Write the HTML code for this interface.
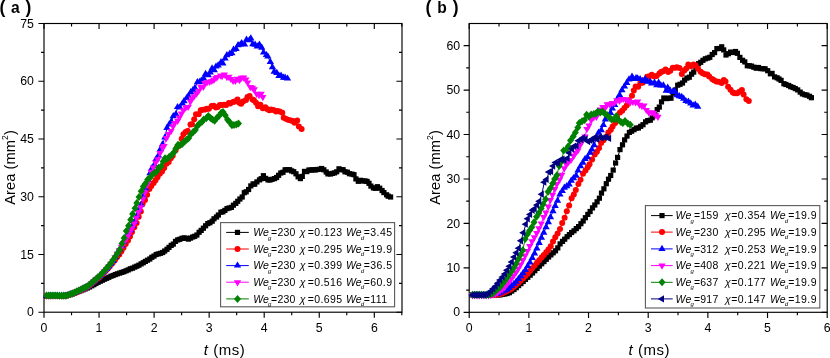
<!DOCTYPE html>
<html><head><meta charset="utf-8"><title>Area vs t</title>
<style>
html,body{margin:0;padding:0;background:#fff;}
body{width:830px;height:358px;overflow:hidden;font-family:"Liberation Sans",sans-serif;}
svg{display:block;will-change:transform;}
text{font-family:"Liberation Sans",sans-serif;fill:#000;}
.tk{font-size:12.3px;}
.lg{font-size:10.5px;letter-spacing:0.2px;}
.it{font-style:italic;}
.sb{font-size:6px;font-style:italic;fill:#000;}
.sp{font-size:8.5px;}
.al{font-size:15px;letter-spacing:0.55px;}
.yl{font-size:14.6px;letter-spacing:0.1px;}
.pl{font-size:15.6px;font-weight:bold;letter-spacing:0.75px;}
.pp{font-size:17.5px;}
</style></head>
<body>
<svg width="830" height="358" viewBox="0 0 830 358">
<rect width="830" height="358" fill="#fff"/>
<rect x="44" y="23.5" width="358" height="288.7" fill="none" stroke="#000" stroke-width="1.15"/>
<path d="M44.00 312.2v5.6M44.00 23.5v5.6M99.05 312.2v5.6M99.05 23.5v5.6M154.10 312.2v5.6M154.10 23.5v5.6M209.15 312.2v5.6M209.15 23.5v5.6M264.20 312.2v5.6M264.20 23.5v5.6M319.25 312.2v5.6M319.25 23.5v5.6M374.30 312.2v5.6M374.30 23.5v5.6M71.53 312.2v3.0M71.53 23.5v3.0M126.57 312.2v3.0M126.57 23.5v3.0M181.62 312.2v3.0M181.62 23.5v3.0M236.67 312.2v3.0M236.67 23.5v3.0M291.73 312.2v3.0M291.73 23.5v3.0M346.77 312.2v3.0M346.77 23.5v3.0M401.82 312.2v3.0M401.82 23.5v3.0M44 312.20h-5.6M402 312.20h-5.6M44 254.46h-5.6M402 254.46h-5.6M44 196.73h-5.6M402 196.73h-5.6M44 138.99h-5.6M402 138.99h-5.6M44 81.26h-5.6M402 81.26h-5.6M44 23.52h-5.6M402 23.52h-5.6M44 283.33h-3.0M402 283.33h-3.0M44 225.60h-3.0M402 225.60h-3.0M44 167.86h-3.0M402 167.86h-3.0M44 110.13h-3.0M402 110.13h-3.0M44 52.39h-3.0M402 52.39h-3.0" stroke="#000" stroke-width="1.15" fill="none"/>
<text x="44.0" y="331.5" text-anchor="middle" class="tk">0</text>
<text x="99.0" y="331.5" text-anchor="middle" class="tk">1</text>
<text x="154.1" y="331.5" text-anchor="middle" class="tk">2</text>
<text x="209.1" y="331.5" text-anchor="middle" class="tk">3</text>
<text x="264.2" y="331.5" text-anchor="middle" class="tk">4</text>
<text x="319.2" y="331.5" text-anchor="middle" class="tk">5</text>
<text x="374.3" y="331.5" text-anchor="middle" class="tk">6</text>
<text x="33.9" y="316.3" text-anchor="end" class="tk">0</text>
<text x="33.9" y="258.6" text-anchor="end" class="tk">15</text>
<text x="33.9" y="200.8" text-anchor="end" class="tk">30</text>
<text x="33.9" y="143.1" text-anchor="end" class="tk">45</text>
<text x="33.9" y="85.4" text-anchor="end" class="tk">60</text>
<text x="33.9" y="27.6" text-anchor="end" class="tk">75</text>
<path d="M46.5 296.0L48.6 296.0L50.8 295.9L53.0 295.9L55.1 295.8L57.2 295.8L59.4 295.7L61.5 295.7L63.7 295.6L65.8 295.3L68.0 294.9L70.2 294.6L72.3 293.8L74.5 293.1L76.6 292.4L78.8 291.5L80.9 290.7L83.0 289.8L85.2 288.9L87.3 288.0L89.5 287.0L91.7 285.8L93.8 284.7L95.9 283.5L98.1 282.3L100.2 281.2L102.4 280.2L104.5 279.2L106.7 278.3L108.8 277.3L111.0 276.2L113.1 275.5L115.3 274.6L117.4 273.8L119.6 273.1L121.8 272.4L123.9 271.7L126.1 270.8L128.2 269.9L130.3 268.8L132.5 268.2L134.7 267.1L136.8 266.2L138.9 265.2L141.1 263.9L143.3 262.7L145.4 261.4L147.5 260.2L149.8 259.0L151.8 257.3L154.0 256.1L156.2 254.5L158.3 253.9L160.5 253.3L162.7 252.5L164.7 251.0L167.0 249.3L169.0 247.4L171.2 245.4L173.3 244.1L175.5 241.4L177.7 239.9L179.8 239.3L182.0 238.3L184.2 237.9L186.2 238.3L188.4 239.1L190.5 238.1L192.7 237.0L194.7 236.3L196.9 235.0L199.1 232.3L201.2 230.4L203.4 228.2L205.6 225.8L207.8 223.6L209.9 222.7L212.2 221.2L214.0 218.8L216.5 217.0L218.4 215.0L220.9 212.2L222.9 211.8L224.9 210.4L227.0 208.6L229.1 208.0L231.4 207.4L233.4 205.2L235.8 203.4L237.7 201.3L239.9 199.0L242.2 197.0L244.3 192.7L246.2 191.8L248.6 189.5L250.8 185.9L253.1 183.9L254.7 184.2L256.9 181.9L259.5 179.9L261.2 178.7L263.4 175.7L265.7 178.4L268.0 179.9L270.0 180.0L272.1 179.3L274.5 178.6L276.6 177.5L278.6 175.3L280.8 173.0L283.0 172.3L285.1 169.8L287.1 169.8L289.6 169.7L291.6 170.9L293.7 171.7L296.0 173.8L298.1 176.8L300.4 178.6L302.3 176.4L304.5 171.4L306.8 171.6L308.9 170.0L311.1 170.1L313.1 169.7L315.2 170.0L317.4 169.5L319.6 169.3L321.6 168.5L323.8 169.8L326.2 172.0L327.9 173.9L330.5 174.0L332.4 173.4L334.5 172.9L336.7 171.8L339.0 168.8L341.1 169.7L343.1 169.7L345.0 171.8L347.4 172.2L349.4 173.7L351.9 174.1L354.0 174.7L355.9 178.9L358.3 181.3L360.6 180.3L362.5 181.0L365.0 180.9L367.1 181.4L369.0 183.3L370.9 186.1L373.4 187.9L375.4 188.3L377.4 186.7L379.7 188.2L382.1 190.5L383.9 192.6L386.6 194.8L388.2 196.2L390.6 197.0" fill="none" stroke="#000000" stroke-width="1"/>
<rect x="43.9" y="293.4" width="5.2" height="5.2" fill="#000000"/><rect x="46.0" y="293.4" width="5.2" height="5.2" fill="#000000"/><rect x="48.2" y="293.3" width="5.2" height="5.2" fill="#000000"/><rect x="50.4" y="293.3" width="5.2" height="5.2" fill="#000000"/><rect x="52.5" y="293.2" width="5.2" height="5.2" fill="#000000"/><rect x="54.6" y="293.2" width="5.2" height="5.2" fill="#000000"/><rect x="56.8" y="293.1" width="5.2" height="5.2" fill="#000000"/><rect x="58.9" y="293.1" width="5.2" height="5.2" fill="#000000"/><rect x="61.1" y="293.0" width="5.2" height="5.2" fill="#000000"/><rect x="63.2" y="292.7" width="5.2" height="5.2" fill="#000000"/><rect x="65.4" y="292.3" width="5.2" height="5.2" fill="#000000"/><rect x="67.6" y="292.0" width="5.2" height="5.2" fill="#000000"/><rect x="69.7" y="291.2" width="5.2" height="5.2" fill="#000000"/><rect x="71.9" y="290.5" width="5.2" height="5.2" fill="#000000"/><rect x="74.0" y="289.8" width="5.2" height="5.2" fill="#000000"/><rect x="76.2" y="288.9" width="5.2" height="5.2" fill="#000000"/><rect x="78.3" y="288.1" width="5.2" height="5.2" fill="#000000"/><rect x="80.5" y="287.2" width="5.2" height="5.2" fill="#000000"/><rect x="82.6" y="286.3" width="5.2" height="5.2" fill="#000000"/><rect x="84.8" y="285.4" width="5.2" height="5.2" fill="#000000"/><rect x="86.9" y="284.4" width="5.2" height="5.2" fill="#000000"/><rect x="89.1" y="283.2" width="5.2" height="5.2" fill="#000000"/><rect x="91.2" y="282.1" width="5.2" height="5.2" fill="#000000"/><rect x="93.3" y="280.9" width="5.2" height="5.2" fill="#000000"/><rect x="95.5" y="279.7" width="5.2" height="5.2" fill="#000000"/><rect x="97.7" y="278.6" width="5.2" height="5.2" fill="#000000"/><rect x="99.8" y="277.6" width="5.2" height="5.2" fill="#000000"/><rect x="101.9" y="276.6" width="5.2" height="5.2" fill="#000000"/><rect x="104.1" y="275.7" width="5.2" height="5.2" fill="#000000"/><rect x="106.2" y="274.7" width="5.2" height="5.2" fill="#000000"/><rect x="108.4" y="273.6" width="5.2" height="5.2" fill="#000000"/><rect x="110.5" y="272.9" width="5.2" height="5.2" fill="#000000"/><rect x="112.7" y="272.0" width="5.2" height="5.2" fill="#000000"/><rect x="114.8" y="271.2" width="5.2" height="5.2" fill="#000000"/><rect x="117.0" y="270.5" width="5.2" height="5.2" fill="#000000"/><rect x="119.2" y="269.8" width="5.2" height="5.2" fill="#000000"/><rect x="121.3" y="269.1" width="5.2" height="5.2" fill="#000000"/><rect x="123.5" y="268.2" width="5.2" height="5.2" fill="#000000"/><rect x="125.6" y="267.3" width="5.2" height="5.2" fill="#000000"/><rect x="127.7" y="266.2" width="5.2" height="5.2" fill="#000000"/><rect x="129.9" y="265.6" width="5.2" height="5.2" fill="#000000"/><rect x="132.1" y="264.5" width="5.2" height="5.2" fill="#000000"/><rect x="134.2" y="263.6" width="5.2" height="5.2" fill="#000000"/><rect x="136.3" y="262.6" width="5.2" height="5.2" fill="#000000"/><rect x="138.5" y="261.3" width="5.2" height="5.2" fill="#000000"/><rect x="140.7" y="260.1" width="5.2" height="5.2" fill="#000000"/><rect x="142.8" y="258.8" width="5.2" height="5.2" fill="#000000"/><rect x="144.9" y="257.6" width="5.2" height="5.2" fill="#000000"/><rect x="147.2" y="256.4" width="5.2" height="5.2" fill="#000000"/><rect x="149.2" y="254.7" width="5.2" height="5.2" fill="#000000"/><rect x="151.4" y="253.5" width="5.2" height="5.2" fill="#000000"/><rect x="153.6" y="251.9" width="5.2" height="5.2" fill="#000000"/><rect x="155.7" y="251.3" width="5.2" height="5.2" fill="#000000"/><rect x="157.9" y="250.7" width="5.2" height="5.2" fill="#000000"/><rect x="160.1" y="249.9" width="5.2" height="5.2" fill="#000000"/><rect x="162.1" y="248.4" width="5.2" height="5.2" fill="#000000"/><rect x="164.4" y="246.7" width="5.2" height="5.2" fill="#000000"/><rect x="166.4" y="244.8" width="5.2" height="5.2" fill="#000000"/><rect x="168.6" y="242.8" width="5.2" height="5.2" fill="#000000"/><rect x="170.7" y="241.5" width="5.2" height="5.2" fill="#000000"/><rect x="172.9" y="238.8" width="5.2" height="5.2" fill="#000000"/><rect x="175.1" y="237.3" width="5.2" height="5.2" fill="#000000"/><rect x="177.2" y="236.7" width="5.2" height="5.2" fill="#000000"/><rect x="179.4" y="235.7" width="5.2" height="5.2" fill="#000000"/><rect x="181.6" y="235.3" width="5.2" height="5.2" fill="#000000"/><rect x="183.6" y="235.7" width="5.2" height="5.2" fill="#000000"/><rect x="185.8" y="236.5" width="5.2" height="5.2" fill="#000000"/><rect x="187.9" y="235.5" width="5.2" height="5.2" fill="#000000"/><rect x="190.1" y="234.4" width="5.2" height="5.2" fill="#000000"/><rect x="192.1" y="233.7" width="5.2" height="5.2" fill="#000000"/><rect x="194.3" y="232.4" width="5.2" height="5.2" fill="#000000"/><rect x="196.5" y="229.7" width="5.2" height="5.2" fill="#000000"/><rect x="198.6" y="227.8" width="5.2" height="5.2" fill="#000000"/><rect x="200.8" y="225.6" width="5.2" height="5.2" fill="#000000"/><rect x="203.0" y="223.2" width="5.2" height="5.2" fill="#000000"/><rect x="205.2" y="221.0" width="5.2" height="5.2" fill="#000000"/><rect x="207.3" y="220.1" width="5.2" height="5.2" fill="#000000"/><rect x="209.6" y="218.6" width="5.2" height="5.2" fill="#000000"/><rect x="211.4" y="216.2" width="5.2" height="5.2" fill="#000000"/><rect x="213.9" y="214.4" width="5.2" height="5.2" fill="#000000"/><rect x="215.8" y="212.4" width="5.2" height="5.2" fill="#000000"/><rect x="218.3" y="209.6" width="5.2" height="5.2" fill="#000000"/><rect x="220.3" y="209.2" width="5.2" height="5.2" fill="#000000"/><rect x="222.3" y="207.8" width="5.2" height="5.2" fill="#000000"/><rect x="224.4" y="206.0" width="5.2" height="5.2" fill="#000000"/><rect x="226.5" y="205.4" width="5.2" height="5.2" fill="#000000"/><rect x="228.8" y="204.8" width="5.2" height="5.2" fill="#000000"/><rect x="230.8" y="202.6" width="5.2" height="5.2" fill="#000000"/><rect x="233.2" y="200.8" width="5.2" height="5.2" fill="#000000"/><rect x="235.1" y="198.7" width="5.2" height="5.2" fill="#000000"/><rect x="237.3" y="196.4" width="5.2" height="5.2" fill="#000000"/><rect x="239.6" y="194.4" width="5.2" height="5.2" fill="#000000"/><rect x="241.7" y="190.1" width="5.2" height="5.2" fill="#000000"/><rect x="243.6" y="189.2" width="5.2" height="5.2" fill="#000000"/><rect x="246.0" y="186.9" width="5.2" height="5.2" fill="#000000"/><rect x="248.2" y="183.3" width="5.2" height="5.2" fill="#000000"/><rect x="250.5" y="181.3" width="5.2" height="5.2" fill="#000000"/><rect x="252.1" y="181.6" width="5.2" height="5.2" fill="#000000"/><rect x="254.3" y="179.3" width="5.2" height="5.2" fill="#000000"/><rect x="256.9" y="177.3" width="5.2" height="5.2" fill="#000000"/><rect x="258.6" y="176.1" width="5.2" height="5.2" fill="#000000"/><rect x="260.8" y="173.1" width="5.2" height="5.2" fill="#000000"/><rect x="263.1" y="175.8" width="5.2" height="5.2" fill="#000000"/><rect x="265.4" y="177.3" width="5.2" height="5.2" fill="#000000"/><rect x="267.4" y="177.4" width="5.2" height="5.2" fill="#000000"/><rect x="269.5" y="176.7" width="5.2" height="5.2" fill="#000000"/><rect x="271.9" y="176.0" width="5.2" height="5.2" fill="#000000"/><rect x="274.0" y="174.9" width="5.2" height="5.2" fill="#000000"/><rect x="276.0" y="172.7" width="5.2" height="5.2" fill="#000000"/><rect x="278.2" y="170.4" width="5.2" height="5.2" fill="#000000"/><rect x="280.4" y="169.7" width="5.2" height="5.2" fill="#000000"/><rect x="282.5" y="167.2" width="5.2" height="5.2" fill="#000000"/><rect x="284.5" y="167.2" width="5.2" height="5.2" fill="#000000"/><rect x="287.0" y="167.1" width="5.2" height="5.2" fill="#000000"/><rect x="289.0" y="168.3" width="5.2" height="5.2" fill="#000000"/><rect x="291.1" y="169.1" width="5.2" height="5.2" fill="#000000"/><rect x="293.4" y="171.2" width="5.2" height="5.2" fill="#000000"/><rect x="295.5" y="174.2" width="5.2" height="5.2" fill="#000000"/><rect x="297.8" y="176.0" width="5.2" height="5.2" fill="#000000"/><rect x="299.7" y="173.8" width="5.2" height="5.2" fill="#000000"/><rect x="301.9" y="168.8" width="5.2" height="5.2" fill="#000000"/><rect x="304.2" y="169.0" width="5.2" height="5.2" fill="#000000"/><rect x="306.3" y="167.4" width="5.2" height="5.2" fill="#000000"/><rect x="308.5" y="167.5" width="5.2" height="5.2" fill="#000000"/><rect x="310.5" y="167.1" width="5.2" height="5.2" fill="#000000"/><rect x="312.6" y="167.4" width="5.2" height="5.2" fill="#000000"/><rect x="314.8" y="166.9" width="5.2" height="5.2" fill="#000000"/><rect x="317.0" y="166.7" width="5.2" height="5.2" fill="#000000"/><rect x="319.0" y="165.9" width="5.2" height="5.2" fill="#000000"/><rect x="321.2" y="167.2" width="5.2" height="5.2" fill="#000000"/><rect x="323.6" y="169.4" width="5.2" height="5.2" fill="#000000"/><rect x="325.3" y="171.3" width="5.2" height="5.2" fill="#000000"/><rect x="327.9" y="171.4" width="5.2" height="5.2" fill="#000000"/><rect x="329.8" y="170.8" width="5.2" height="5.2" fill="#000000"/><rect x="331.9" y="170.3" width="5.2" height="5.2" fill="#000000"/><rect x="334.1" y="169.2" width="5.2" height="5.2" fill="#000000"/><rect x="336.4" y="166.2" width="5.2" height="5.2" fill="#000000"/><rect x="338.5" y="167.1" width="5.2" height="5.2" fill="#000000"/><rect x="340.5" y="167.1" width="5.2" height="5.2" fill="#000000"/><rect x="342.4" y="169.2" width="5.2" height="5.2" fill="#000000"/><rect x="344.8" y="169.6" width="5.2" height="5.2" fill="#000000"/><rect x="346.8" y="171.1" width="5.2" height="5.2" fill="#000000"/><rect x="349.3" y="171.5" width="5.2" height="5.2" fill="#000000"/><rect x="351.4" y="172.1" width="5.2" height="5.2" fill="#000000"/><rect x="353.3" y="176.3" width="5.2" height="5.2" fill="#000000"/><rect x="355.7" y="178.7" width="5.2" height="5.2" fill="#000000"/><rect x="358.0" y="177.7" width="5.2" height="5.2" fill="#000000"/><rect x="359.9" y="178.4" width="5.2" height="5.2" fill="#000000"/><rect x="362.4" y="178.3" width="5.2" height="5.2" fill="#000000"/><rect x="364.5" y="178.8" width="5.2" height="5.2" fill="#000000"/><rect x="366.4" y="180.7" width="5.2" height="5.2" fill="#000000"/><rect x="368.3" y="183.5" width="5.2" height="5.2" fill="#000000"/><rect x="370.8" y="185.3" width="5.2" height="5.2" fill="#000000"/><rect x="372.8" y="185.7" width="5.2" height="5.2" fill="#000000"/><rect x="374.8" y="184.1" width="5.2" height="5.2" fill="#000000"/><rect x="377.1" y="185.6" width="5.2" height="5.2" fill="#000000"/><rect x="379.5" y="187.9" width="5.2" height="5.2" fill="#000000"/><rect x="381.3" y="190.0" width="5.2" height="5.2" fill="#000000"/><rect x="384.0" y="192.2" width="5.2" height="5.2" fill="#000000"/><rect x="385.6" y="193.6" width="5.2" height="5.2" fill="#000000"/><rect x="388.0" y="194.4" width="5.2" height="5.2" fill="#000000"/>
<path d="M46.5 296.0L48.6 296.0L50.8 296.0L52.9 296.0L55.1 296.0L57.2 295.9L59.3 295.9L61.5 295.9L63.6 295.9L65.8 295.9L67.9 295.3L70.1 294.6L72.2 293.9L74.3 293.2L76.5 292.4L78.6 291.4L80.8 290.3L82.9 289.3L85.0 288.2L87.2 287.2L89.3 285.7L91.5 283.9L93.6 282.1L95.7 280.3L97.9 278.5L100.0 276.7L102.2 274.5L104.3 272.3L106.5 270.0L108.6 267.6L110.7 265.0L112.8 262.4L115.0 259.9L117.2 257.1L119.3 254.4L121.4 251.2L123.5 247.8L125.7 244.0L128.0 240.5L130.0 236.4L132.0 232.1L134.3 227.2L136.6 223.0L138.7 216.8L140.8 211.4L142.7 203.4L145.0 200.0L147.1 194.8L149.4 188.9L151.3 185.9L153.6 183.1L155.5 180.2L157.5 177.2L159.8 173.7L162.0 171.6L164.2 168.1L166.5 163.8L168.7 162.0L170.8 158.3L172.7 155.8L175.6 150.2L177.3 146.8L179.5 145.0L181.7 138.8L183.4 134.3L185.6 132.0L187.6 131.0L190.5 124.6L192.0 124.3L194.2 119.3L196.0 114.3L198.7 114.2L200.7 110.2L202.8 109.8L205.1 109.4L206.9 108.8L208.9 108.8L211.7 106.0L213.6 105.8L215.9 107.4L217.7 107.1L219.8 104.9L221.9 104.9L224.1 104.7L226.2 104.9L228.8 103.0L230.2 103.6L233.1 101.9L234.6 101.6L237.5 99.6L239.3 102.8L241.1 103.8L243.1 101.6L246.0 100.1L247.5 97.0L249.6 96.0L252.5 99.5L253.9 100.2L256.0 102.8L258.1 106.2L260.4 104.7L262.8 108.3L265.3 107.3L267.1 109.0L269.3 110.2L271.1 109.6L273.5 110.1L276.0 111.4L277.5 111.0L279.7 111.4L282.3 112.8L283.7 117.7L286.3 119.0L288.6 120.1L290.8 120.6L292.8 120.9L294.6 122.7L297.2 120.6L298.9 126.6L301.6 129.1" fill="none" stroke="#ff0000" stroke-width="1"/>
<circle cx="46.5" cy="296.0" r="3.0" fill="#ff0000"/><circle cx="48.6" cy="296.0" r="3.0" fill="#ff0000"/><circle cx="50.8" cy="296.0" r="3.0" fill="#ff0000"/><circle cx="52.9" cy="296.0" r="3.0" fill="#ff0000"/><circle cx="55.1" cy="296.0" r="3.0" fill="#ff0000"/><circle cx="57.2" cy="295.9" r="3.0" fill="#ff0000"/><circle cx="59.3" cy="295.9" r="3.0" fill="#ff0000"/><circle cx="61.5" cy="295.9" r="3.0" fill="#ff0000"/><circle cx="63.6" cy="295.9" r="3.0" fill="#ff0000"/><circle cx="65.8" cy="295.9" r="3.0" fill="#ff0000"/><circle cx="67.9" cy="295.3" r="3.0" fill="#ff0000"/><circle cx="70.1" cy="294.6" r="3.0" fill="#ff0000"/><circle cx="72.2" cy="293.9" r="3.0" fill="#ff0000"/><circle cx="74.3" cy="293.2" r="3.0" fill="#ff0000"/><circle cx="76.5" cy="292.4" r="3.0" fill="#ff0000"/><circle cx="78.6" cy="291.4" r="3.0" fill="#ff0000"/><circle cx="80.8" cy="290.3" r="3.0" fill="#ff0000"/><circle cx="82.9" cy="289.3" r="3.0" fill="#ff0000"/><circle cx="85.0" cy="288.2" r="3.0" fill="#ff0000"/><circle cx="87.2" cy="287.2" r="3.0" fill="#ff0000"/><circle cx="89.3" cy="285.7" r="3.0" fill="#ff0000"/><circle cx="91.5" cy="283.9" r="3.0" fill="#ff0000"/><circle cx="93.6" cy="282.1" r="3.0" fill="#ff0000"/><circle cx="95.7" cy="280.3" r="3.0" fill="#ff0000"/><circle cx="97.9" cy="278.5" r="3.0" fill="#ff0000"/><circle cx="100.0" cy="276.7" r="3.0" fill="#ff0000"/><circle cx="102.2" cy="274.5" r="3.0" fill="#ff0000"/><circle cx="104.3" cy="272.3" r="3.0" fill="#ff0000"/><circle cx="106.5" cy="270.0" r="3.0" fill="#ff0000"/><circle cx="108.6" cy="267.6" r="3.0" fill="#ff0000"/><circle cx="110.7" cy="265.0" r="3.0" fill="#ff0000"/><circle cx="112.8" cy="262.4" r="3.0" fill="#ff0000"/><circle cx="115.0" cy="259.9" r="3.0" fill="#ff0000"/><circle cx="117.2" cy="257.1" r="3.0" fill="#ff0000"/><circle cx="119.3" cy="254.4" r="3.0" fill="#ff0000"/><circle cx="121.4" cy="251.2" r="3.0" fill="#ff0000"/><circle cx="123.5" cy="247.8" r="3.0" fill="#ff0000"/><circle cx="125.7" cy="244.0" r="3.0" fill="#ff0000"/><circle cx="128.0" cy="240.5" r="3.0" fill="#ff0000"/><circle cx="130.0" cy="236.4" r="3.0" fill="#ff0000"/><circle cx="132.0" cy="232.1" r="3.0" fill="#ff0000"/><circle cx="134.3" cy="227.2" r="3.0" fill="#ff0000"/><circle cx="136.6" cy="223.0" r="3.0" fill="#ff0000"/><circle cx="138.7" cy="216.8" r="3.0" fill="#ff0000"/><circle cx="140.8" cy="211.4" r="3.0" fill="#ff0000"/><circle cx="142.7" cy="203.4" r="3.0" fill="#ff0000"/><circle cx="145.0" cy="200.0" r="3.0" fill="#ff0000"/><circle cx="147.1" cy="194.8" r="3.0" fill="#ff0000"/><circle cx="149.4" cy="188.9" r="3.0" fill="#ff0000"/><circle cx="151.3" cy="185.9" r="3.0" fill="#ff0000"/><circle cx="153.6" cy="183.1" r="3.0" fill="#ff0000"/><circle cx="155.5" cy="180.2" r="3.0" fill="#ff0000"/><circle cx="157.5" cy="177.2" r="3.0" fill="#ff0000"/><circle cx="159.8" cy="173.7" r="3.0" fill="#ff0000"/><circle cx="162.0" cy="171.6" r="3.0" fill="#ff0000"/><circle cx="164.2" cy="168.1" r="3.0" fill="#ff0000"/><circle cx="166.5" cy="163.8" r="3.0" fill="#ff0000"/><circle cx="168.7" cy="162.0" r="3.0" fill="#ff0000"/><circle cx="170.8" cy="158.3" r="3.0" fill="#ff0000"/><circle cx="172.7" cy="155.8" r="3.0" fill="#ff0000"/><circle cx="175.6" cy="150.2" r="3.0" fill="#ff0000"/><circle cx="177.3" cy="146.8" r="3.0" fill="#ff0000"/><circle cx="179.5" cy="145.0" r="3.0" fill="#ff0000"/><circle cx="181.7" cy="138.8" r="3.0" fill="#ff0000"/><circle cx="183.4" cy="134.3" r="3.0" fill="#ff0000"/><circle cx="185.6" cy="132.0" r="3.0" fill="#ff0000"/><circle cx="187.6" cy="131.0" r="3.0" fill="#ff0000"/><circle cx="190.5" cy="124.6" r="3.0" fill="#ff0000"/><circle cx="192.0" cy="124.3" r="3.0" fill="#ff0000"/><circle cx="194.2" cy="119.3" r="3.0" fill="#ff0000"/><circle cx="196.0" cy="114.3" r="3.0" fill="#ff0000"/><circle cx="198.7" cy="114.2" r="3.0" fill="#ff0000"/><circle cx="200.7" cy="110.2" r="3.0" fill="#ff0000"/><circle cx="202.8" cy="109.8" r="3.0" fill="#ff0000"/><circle cx="205.1" cy="109.4" r="3.0" fill="#ff0000"/><circle cx="206.9" cy="108.8" r="3.0" fill="#ff0000"/><circle cx="208.9" cy="108.8" r="3.0" fill="#ff0000"/><circle cx="211.7" cy="106.0" r="3.0" fill="#ff0000"/><circle cx="213.6" cy="105.8" r="3.0" fill="#ff0000"/><circle cx="215.9" cy="107.4" r="3.0" fill="#ff0000"/><circle cx="217.7" cy="107.1" r="3.0" fill="#ff0000"/><circle cx="219.8" cy="104.9" r="3.0" fill="#ff0000"/><circle cx="221.9" cy="104.9" r="3.0" fill="#ff0000"/><circle cx="224.1" cy="104.7" r="3.0" fill="#ff0000"/><circle cx="226.2" cy="104.9" r="3.0" fill="#ff0000"/><circle cx="228.8" cy="103.0" r="3.0" fill="#ff0000"/><circle cx="230.2" cy="103.6" r="3.0" fill="#ff0000"/><circle cx="233.1" cy="101.9" r="3.0" fill="#ff0000"/><circle cx="234.6" cy="101.6" r="3.0" fill="#ff0000"/><circle cx="237.5" cy="99.6" r="3.0" fill="#ff0000"/><circle cx="239.3" cy="102.8" r="3.0" fill="#ff0000"/><circle cx="241.1" cy="103.8" r="3.0" fill="#ff0000"/><circle cx="243.1" cy="101.6" r="3.0" fill="#ff0000"/><circle cx="246.0" cy="100.1" r="3.0" fill="#ff0000"/><circle cx="247.5" cy="97.0" r="3.0" fill="#ff0000"/><circle cx="249.6" cy="96.0" r="3.0" fill="#ff0000"/><circle cx="252.5" cy="99.5" r="3.0" fill="#ff0000"/><circle cx="253.9" cy="100.2" r="3.0" fill="#ff0000"/><circle cx="256.0" cy="102.8" r="3.0" fill="#ff0000"/><circle cx="258.1" cy="106.2" r="3.0" fill="#ff0000"/><circle cx="260.4" cy="104.7" r="3.0" fill="#ff0000"/><circle cx="262.8" cy="108.3" r="3.0" fill="#ff0000"/><circle cx="265.3" cy="107.3" r="3.0" fill="#ff0000"/><circle cx="267.1" cy="109.0" r="3.0" fill="#ff0000"/><circle cx="269.3" cy="110.2" r="3.0" fill="#ff0000"/><circle cx="271.1" cy="109.6" r="3.0" fill="#ff0000"/><circle cx="273.5" cy="110.1" r="3.0" fill="#ff0000"/><circle cx="276.0" cy="111.4" r="3.0" fill="#ff0000"/><circle cx="277.5" cy="111.0" r="3.0" fill="#ff0000"/><circle cx="279.7" cy="111.4" r="3.0" fill="#ff0000"/><circle cx="282.3" cy="112.8" r="3.0" fill="#ff0000"/><circle cx="283.7" cy="117.7" r="3.0" fill="#ff0000"/><circle cx="286.3" cy="119.0" r="3.0" fill="#ff0000"/><circle cx="288.6" cy="120.1" r="3.0" fill="#ff0000"/><circle cx="290.8" cy="120.6" r="3.0" fill="#ff0000"/><circle cx="292.8" cy="120.9" r="3.0" fill="#ff0000"/><circle cx="294.6" cy="122.7" r="3.0" fill="#ff0000"/><circle cx="297.2" cy="120.6" r="3.0" fill="#ff0000"/><circle cx="298.9" cy="126.6" r="3.0" fill="#ff0000"/><circle cx="301.6" cy="129.1" r="3.0" fill="#ff0000"/>
<path d="M46.5 296.0L48.7 296.0L50.8 296.0L53.0 295.9L55.1 295.9L57.3 295.9L59.4 295.9L61.6 295.8L63.7 295.8L65.9 295.8L68.0 295.1L70.2 294.3L72.3 293.6L74.5 292.9L76.6 292.0L78.8 291.0L80.9 289.9L83.1 288.8L85.2 287.7L87.4 286.7L89.5 285.1L91.7 283.3L93.8 281.4L96.0 279.6L98.1 277.8L100.3 275.9L102.4 273.6L104.6 271.3L106.8 269.0L108.9 266.5L111.1 263.7L113.2 260.9L115.3 257.2L117.5 253.5L119.7 249.6L121.9 245.7L124.0 241.5L126.1 237.4L128.3 234.0L130.4 230.2L132.5 226.0L134.7 221.8L136.9 215.9L139.1 210.2L141.2 204.9L143.3 196.5L145.7 188.6L147.7 180.3L150.1 173.2L151.8 168.5L154.4 164.6L156.2 159.1L158.5 155.6L160.4 149.2L162.5 144.5L164.9 137.5L167.0 128.0L169.2 124.4L171.3 121.5L173.3 116.2L175.9 114.1L177.6 107.1L179.9 107.5L182.4 103.6L184.0 101.3L186.6 98.1L188.5 95.9L190.7 92.2L192.9 90.1L194.9 88.0L197.4 82.3L199.6 81.9L201.3 80.7L203.6 78.4L205.6 73.9L208.2 75.2L210.2 72.4L212.1 68.5L214.3 70.2L216.0 66.6L218.1 65.5L221.0 62.3L222.8 63.4L225.1 58.6L226.9 55.2L229.6 54.0L231.8 53.2L233.5 49.8L236.1 48.9L238.1 45.3L240.4 44.6L241.7 43.2L244.6 44.6L246.5 39.8L249.4 40.3L250.8 38.4L252.8 44.2L255.1 44.8L257.2 46.4L259.4 44.6L261.8 47.8L263.6 52.6L266.4 55.1L267.9 56.6L270.3 61.9L272.4 67.2L274.2 71.7L276.8 73.0L279.0 76.0L281.1 75.7L283.5 77.8L285.1 77.7L287.5 78.6" fill="none" stroke="#0000ff" stroke-width="1"/>
<path d="M42.9 298.0L50.1 298.0L46.5 291.8Z" fill="#0000ff"/><path d="M45.0 298.0L52.3 298.0L48.7 291.8Z" fill="#0000ff"/><path d="M47.2 298.0L54.5 298.0L50.8 291.8Z" fill="#0000ff"/><path d="M49.3 297.9L56.6 297.9L53.0 291.7Z" fill="#0000ff"/><path d="M51.5 297.9L58.8 297.9L55.1 291.7Z" fill="#0000ff"/><path d="M53.6 297.9L60.9 297.9L57.3 291.7Z" fill="#0000ff"/><path d="M55.8 297.9L63.1 297.9L59.4 291.7Z" fill="#0000ff"/><path d="M57.9 297.8L65.2 297.8L61.6 291.6Z" fill="#0000ff"/><path d="M60.1 297.8L67.4 297.8L63.7 291.6Z" fill="#0000ff"/><path d="M62.2 297.8L69.5 297.8L65.9 291.6Z" fill="#0000ff"/><path d="M64.4 297.1L71.7 297.1L68.0 290.9Z" fill="#0000ff"/><path d="M66.5 296.3L73.8 296.3L70.2 290.1Z" fill="#0000ff"/><path d="M68.7 295.6L76.0 295.6L72.3 289.4Z" fill="#0000ff"/><path d="M70.8 294.9L78.1 294.9L74.5 288.7Z" fill="#0000ff"/><path d="M73.0 294.0L80.3 294.0L76.6 287.8Z" fill="#0000ff"/><path d="M75.1 293.0L82.4 293.0L78.8 286.8Z" fill="#0000ff"/><path d="M77.3 291.9L84.6 291.9L80.9 285.7Z" fill="#0000ff"/><path d="M79.4 290.8L86.7 290.8L83.1 284.6Z" fill="#0000ff"/><path d="M81.6 289.7L88.9 289.7L85.2 283.5Z" fill="#0000ff"/><path d="M83.7 288.7L91.0 288.7L87.4 282.5Z" fill="#0000ff"/><path d="M85.9 287.1L93.2 287.1L89.5 280.9Z" fill="#0000ff"/><path d="M88.0 285.3L95.3 285.3L91.7 279.1Z" fill="#0000ff"/><path d="M90.2 283.4L97.5 283.4L93.8 277.2Z" fill="#0000ff"/><path d="M92.3 281.6L99.6 281.6L96.0 275.4Z" fill="#0000ff"/><path d="M94.5 279.8L101.8 279.8L98.1 273.6Z" fill="#0000ff"/><path d="M96.6 277.9L103.9 277.9L100.3 271.7Z" fill="#0000ff"/><path d="M98.8 275.6L106.1 275.6L102.4 269.4Z" fill="#0000ff"/><path d="M100.9 273.3L108.2 273.3L104.6 267.1Z" fill="#0000ff"/><path d="M103.1 271.0L110.4 271.0L106.8 264.8Z" fill="#0000ff"/><path d="M105.3 268.5L112.6 268.5L108.9 262.3Z" fill="#0000ff"/><path d="M107.4 265.7L114.7 265.7L111.1 259.5Z" fill="#0000ff"/><path d="M109.6 262.9L116.9 262.9L113.2 256.7Z" fill="#0000ff"/><path d="M111.7 259.2L119.0 259.2L115.3 253.0Z" fill="#0000ff"/><path d="M113.8 255.5L121.1 255.5L117.5 249.3Z" fill="#0000ff"/><path d="M116.0 251.6L123.3 251.6L119.7 245.4Z" fill="#0000ff"/><path d="M118.2 247.7L125.5 247.7L121.9 241.5Z" fill="#0000ff"/><path d="M120.3 243.5L127.6 243.5L124.0 237.3Z" fill="#0000ff"/><path d="M122.4 239.4L129.7 239.4L126.1 233.2Z" fill="#0000ff"/><path d="M124.6 236.0L131.9 236.0L128.3 229.8Z" fill="#0000ff"/><path d="M126.8 232.2L134.1 232.2L130.4 226.0Z" fill="#0000ff"/><path d="M128.9 228.0L136.2 228.0L132.5 221.8Z" fill="#0000ff"/><path d="M131.0 223.8L138.3 223.8L134.7 217.6Z" fill="#0000ff"/><path d="M133.3 217.9L140.6 217.9L136.9 211.7Z" fill="#0000ff"/><path d="M135.4 212.2L142.7 212.2L139.1 206.0Z" fill="#0000ff"/><path d="M137.5 206.9L144.8 206.9L141.2 200.7Z" fill="#0000ff"/><path d="M139.6 198.5L146.9 198.5L143.3 192.3Z" fill="#0000ff"/><path d="M142.0 190.6L149.3 190.6L145.7 184.4Z" fill="#0000ff"/><path d="M144.1 182.3L151.4 182.3L147.7 176.1Z" fill="#0000ff"/><path d="M146.4 175.2L153.7 175.2L150.1 169.0Z" fill="#0000ff"/><path d="M148.1 170.5L155.4 170.5L151.8 164.3Z" fill="#0000ff"/><path d="M150.7 166.6L158.0 166.6L154.4 160.4Z" fill="#0000ff"/><path d="M152.5 161.1L159.8 161.1L156.2 154.9Z" fill="#0000ff"/><path d="M154.8 157.6L162.1 157.6L158.5 151.4Z" fill="#0000ff"/><path d="M156.8 151.2L164.1 151.2L160.4 145.0Z" fill="#0000ff"/><path d="M158.8 146.5L166.1 146.5L162.5 140.3Z" fill="#0000ff"/><path d="M161.3 139.5L168.6 139.5L164.9 133.3Z" fill="#0000ff"/><path d="M163.3 130.0L170.6 130.0L167.0 123.8Z" fill="#0000ff"/><path d="M165.5 126.4L172.8 126.4L169.2 120.2Z" fill="#0000ff"/><path d="M167.7 123.5L175.0 123.5L171.3 117.3Z" fill="#0000ff"/><path d="M169.6 118.2L176.9 118.2L173.3 112.0Z" fill="#0000ff"/><path d="M172.2 116.1L179.5 116.1L175.9 109.9Z" fill="#0000ff"/><path d="M173.9 109.1L181.2 109.1L177.6 102.9Z" fill="#0000ff"/><path d="M176.2 109.5L183.5 109.5L179.9 103.3Z" fill="#0000ff"/><path d="M178.7 105.6L186.0 105.6L182.4 99.4Z" fill="#0000ff"/><path d="M180.4 103.3L187.7 103.3L184.0 97.1Z" fill="#0000ff"/><path d="M182.9 100.1L190.2 100.1L186.6 93.9Z" fill="#0000ff"/><path d="M184.8 97.9L192.1 97.9L188.5 91.7Z" fill="#0000ff"/><path d="M187.1 94.2L194.4 94.2L190.7 88.0Z" fill="#0000ff"/><path d="M189.3 92.1L196.6 92.1L192.9 85.9Z" fill="#0000ff"/><path d="M191.3 90.0L198.6 90.0L194.9 83.8Z" fill="#0000ff"/><path d="M193.8 84.3L201.1 84.3L197.4 78.1Z" fill="#0000ff"/><path d="M195.9 83.9L203.2 83.9L199.6 77.7Z" fill="#0000ff"/><path d="M197.7 82.7L205.0 82.7L201.3 76.5Z" fill="#0000ff"/><path d="M200.0 80.4L207.3 80.4L203.6 74.2Z" fill="#0000ff"/><path d="M201.9 75.9L209.2 75.9L205.6 69.7Z" fill="#0000ff"/><path d="M204.6 77.2L211.9 77.2L208.2 71.0Z" fill="#0000ff"/><path d="M206.6 74.4L213.9 74.4L210.2 68.2Z" fill="#0000ff"/><path d="M208.4 70.5L215.7 70.5L212.1 64.3Z" fill="#0000ff"/><path d="M210.6 72.2L217.9 72.2L214.3 66.0Z" fill="#0000ff"/><path d="M212.3 68.6L219.6 68.6L216.0 62.4Z" fill="#0000ff"/><path d="M214.5 67.5L221.8 67.5L218.1 61.3Z" fill="#0000ff"/><path d="M217.4 64.3L224.7 64.3L221.0 58.1Z" fill="#0000ff"/><path d="M219.2 65.4L226.5 65.4L222.8 59.2Z" fill="#0000ff"/><path d="M221.4 60.6L228.7 60.6L225.1 54.4Z" fill="#0000ff"/><path d="M223.2 57.2L230.5 57.2L226.9 51.0Z" fill="#0000ff"/><path d="M226.0 56.0L233.3 56.0L229.6 49.8Z" fill="#0000ff"/><path d="M228.2 55.2L235.5 55.2L231.8 49.0Z" fill="#0000ff"/><path d="M229.9 51.8L237.2 51.8L233.5 45.6Z" fill="#0000ff"/><path d="M232.4 50.9L239.7 50.9L236.1 44.7Z" fill="#0000ff"/><path d="M234.4 47.3L241.7 47.3L238.1 41.1Z" fill="#0000ff"/><path d="M236.8 46.6L244.1 46.6L240.4 40.4Z" fill="#0000ff"/><path d="M238.0 45.2L245.3 45.2L241.7 39.0Z" fill="#0000ff"/><path d="M240.9 46.6L248.2 46.6L244.6 40.4Z" fill="#0000ff"/><path d="M242.9 41.8L250.2 41.8L246.5 35.6Z" fill="#0000ff"/><path d="M245.7 42.3L253.0 42.3L249.4 36.1Z" fill="#0000ff"/><path d="M247.2 40.4L254.5 40.4L250.8 34.2Z" fill="#0000ff"/><path d="M249.1 46.2L256.4 46.2L252.8 40.0Z" fill="#0000ff"/><path d="M251.5 46.8L258.8 46.8L255.1 40.6Z" fill="#0000ff"/><path d="M253.6 48.4L260.9 48.4L257.2 42.2Z" fill="#0000ff"/><path d="M255.7 46.6L263.0 46.6L259.4 40.4Z" fill="#0000ff"/><path d="M258.1 49.8L265.4 49.8L261.8 43.6Z" fill="#0000ff"/><path d="M259.9 54.6L267.2 54.6L263.6 48.4Z" fill="#0000ff"/><path d="M262.8 57.1L270.1 57.1L266.4 50.9Z" fill="#0000ff"/><path d="M264.2 58.6L271.5 58.6L267.9 52.4Z" fill="#0000ff"/><path d="M266.7 63.9L274.0 63.9L270.3 57.7Z" fill="#0000ff"/><path d="M268.8 69.2L276.1 69.2L272.4 63.0Z" fill="#0000ff"/><path d="M270.5 73.7L277.8 73.7L274.2 67.5Z" fill="#0000ff"/><path d="M273.2 75.0L280.5 75.0L276.8 68.8Z" fill="#0000ff"/><path d="M275.3 78.0L282.6 78.0L279.0 71.8Z" fill="#0000ff"/><path d="M277.4 77.7L284.7 77.7L281.1 71.5Z" fill="#0000ff"/><path d="M279.9 79.8L287.2 79.8L283.5 73.6Z" fill="#0000ff"/><path d="M281.5 79.7L288.8 79.7L285.1 73.5Z" fill="#0000ff"/><path d="M283.9 80.6L291.2 80.6L287.5 74.4Z" fill="#0000ff"/>
<path d="M46.5 295.5L48.6 295.5L50.8 295.5L52.9 295.4L55.1 295.4L57.2 295.4L59.4 295.4L61.5 295.3L63.6 295.3L65.8 295.3L67.9 294.7L70.1 294.0L72.2 293.3L74.4 292.6L76.5 291.8L78.6 290.7L80.8 289.7L82.9 288.7L85.1 287.6L87.2 286.6L89.4 285.1L91.5 283.3L93.6 281.5L95.8 279.6L97.9 277.8L100.1 276.0L102.2 273.8L104.3 271.5L106.5 269.2L108.6 266.6L110.8 263.8L112.9 260.9L115.1 257.3L117.2 253.7L119.3 250.2L121.5 246.7L123.7 242.9L125.8 239.2L127.9 235.7L130.0 231.3L132.0 228.1L134.3 223.4L136.4 217.7L138.5 212.1L140.7 207.3L143.0 198.8L145.0 192.4L147.3 184.3L149.5 178.9L151.3 171.7L153.3 167.6L155.7 162.4L157.7 159.2L160.0 153.1L162.5 147.5L164.0 146.1L166.4 138.0L168.4 134.0L171.0 131.1L173.1 126.2L174.6 123.0L177.6 120.7L179.3 117.4L181.4 113.5L183.3 110.2L185.8 107.5L188.1 106.9L190.4 101.6L192.0 98.4L194.1 96.3L196.6 93.6L198.7 90.7L200.7 86.8L203.4 86.8L204.8 82.9L207.0 82.2L209.7 81.7L211.8 80.9L213.9 79.7L215.9 77.9L217.4 76.9L220.5 75.4L222.0 76.0L224.4 74.6L226.9 77.0L228.8 76.7L230.9 78.9L233.1 80.8L235.4 80.8L237.4 78.7L239.5 80.0L241.4 77.7L243.6 77.5L245.9 79.5L247.6 82.4L250.3 87.1L252.5 87.8L254.2 89.2L256.6 93.8L259.0 95.1L261.1 93.7L262.8 97.1" fill="none" stroke="#ff00ff" stroke-width="1"/>
<path d="M42.9 293.5L50.1 293.5L46.5 299.7Z" fill="#ff00ff"/><path d="M45.0 293.5L52.3 293.5L48.6 299.7Z" fill="#ff00ff"/><path d="M47.1 293.5L54.4 293.5L50.8 299.7Z" fill="#ff00ff"/><path d="M49.3 293.4L56.6 293.4L52.9 299.6Z" fill="#ff00ff"/><path d="M51.4 293.4L58.7 293.4L55.1 299.6Z" fill="#ff00ff"/><path d="M53.6 293.4L60.9 293.4L57.2 299.6Z" fill="#ff00ff"/><path d="M55.7 293.4L63.0 293.4L59.4 299.6Z" fill="#ff00ff"/><path d="M57.8 293.3L65.1 293.3L61.5 299.5Z" fill="#ff00ff"/><path d="M60.0 293.3L67.3 293.3L63.6 299.5Z" fill="#ff00ff"/><path d="M62.1 293.3L69.4 293.3L65.8 299.5Z" fill="#ff00ff"/><path d="M64.3 292.7L71.6 292.7L67.9 298.9Z" fill="#ff00ff"/><path d="M66.4 292.0L73.7 292.0L70.1 298.2Z" fill="#ff00ff"/><path d="M68.6 291.3L75.9 291.3L72.2 297.5Z" fill="#ff00ff"/><path d="M70.7 290.6L78.0 290.6L74.4 296.8Z" fill="#ff00ff"/><path d="M72.8 289.8L80.1 289.8L76.5 296.0Z" fill="#ff00ff"/><path d="M75.0 288.7L82.3 288.7L78.6 294.9Z" fill="#ff00ff"/><path d="M77.1 287.7L84.4 287.7L80.8 293.9Z" fill="#ff00ff"/><path d="M79.3 286.7L86.6 286.7L82.9 292.9Z" fill="#ff00ff"/><path d="M81.4 285.6L88.7 285.6L85.1 291.8Z" fill="#ff00ff"/><path d="M83.6 284.6L90.9 284.6L87.2 290.8Z" fill="#ff00ff"/><path d="M85.7 283.1L93.0 283.1L89.4 289.3Z" fill="#ff00ff"/><path d="M87.8 281.3L95.1 281.3L91.5 287.5Z" fill="#ff00ff"/><path d="M90.0 279.5L97.3 279.5L93.6 285.7Z" fill="#ff00ff"/><path d="M92.1 277.6L99.4 277.6L95.8 283.8Z" fill="#ff00ff"/><path d="M94.3 275.8L101.6 275.8L97.9 282.0Z" fill="#ff00ff"/><path d="M96.4 274.0L103.7 274.0L100.1 280.2Z" fill="#ff00ff"/><path d="M98.6 271.8L105.9 271.8L102.2 278.0Z" fill="#ff00ff"/><path d="M100.7 269.5L108.0 269.5L104.3 275.7Z" fill="#ff00ff"/><path d="M102.8 267.2L110.1 267.2L106.5 273.4Z" fill="#ff00ff"/><path d="M105.0 264.6L112.3 264.6L108.6 270.8Z" fill="#ff00ff"/><path d="M107.1 261.8L114.4 261.8L110.8 268.0Z" fill="#ff00ff"/><path d="M109.3 258.9L116.6 258.9L112.9 265.1Z" fill="#ff00ff"/><path d="M111.4 255.3L118.7 255.3L115.1 261.5Z" fill="#ff00ff"/><path d="M113.6 251.7L120.9 251.7L117.2 257.9Z" fill="#ff00ff"/><path d="M115.6 248.2L122.9 248.2L119.3 254.4Z" fill="#ff00ff"/><path d="M117.8 244.7L125.1 244.7L121.5 250.9Z" fill="#ff00ff"/><path d="M120.1 240.9L127.4 240.9L123.7 247.1Z" fill="#ff00ff"/><path d="M122.1 237.2L129.4 237.2L125.8 243.4Z" fill="#ff00ff"/><path d="M124.3 233.7L131.6 233.7L127.9 239.9Z" fill="#ff00ff"/><path d="M126.3 229.3L133.6 229.3L130.0 235.5Z" fill="#ff00ff"/><path d="M128.4 226.1L135.7 226.1L132.0 232.3Z" fill="#ff00ff"/><path d="M130.7 221.4L138.0 221.4L134.3 227.6Z" fill="#ff00ff"/><path d="M132.8 215.7L140.1 215.7L136.4 221.9Z" fill="#ff00ff"/><path d="M134.9 210.1L142.2 210.1L138.5 216.3Z" fill="#ff00ff"/><path d="M137.1 205.3L144.4 205.3L140.7 211.5Z" fill="#ff00ff"/><path d="M139.3 196.8L146.6 196.8L143.0 203.0Z" fill="#ff00ff"/><path d="M141.3 190.4L148.6 190.4L145.0 196.6Z" fill="#ff00ff"/><path d="M143.6 182.3L150.9 182.3L147.3 188.5Z" fill="#ff00ff"/><path d="M145.8 176.9L153.1 176.9L149.5 183.1Z" fill="#ff00ff"/><path d="M147.6 169.7L154.9 169.7L151.3 175.9Z" fill="#ff00ff"/><path d="M149.6 165.6L156.9 165.6L153.3 171.8Z" fill="#ff00ff"/><path d="M152.0 160.4L159.3 160.4L155.7 166.6Z" fill="#ff00ff"/><path d="M154.1 157.2L161.4 157.2L157.7 163.4Z" fill="#ff00ff"/><path d="M156.4 151.1L163.7 151.1L160.0 157.3Z" fill="#ff00ff"/><path d="M158.9 145.5L166.2 145.5L162.5 151.7Z" fill="#ff00ff"/><path d="M160.4 144.1L167.7 144.1L164.0 150.3Z" fill="#ff00ff"/><path d="M162.7 136.0L170.0 136.0L166.4 142.2Z" fill="#ff00ff"/><path d="M164.8 132.0L172.1 132.0L168.4 138.2Z" fill="#ff00ff"/><path d="M167.3 129.1L174.6 129.1L171.0 135.3Z" fill="#ff00ff"/><path d="M169.4 124.2L176.7 124.2L173.1 130.4Z" fill="#ff00ff"/><path d="M171.0 121.0L178.3 121.0L174.6 127.2Z" fill="#ff00ff"/><path d="M174.0 118.7L181.3 118.7L177.6 124.9Z" fill="#ff00ff"/><path d="M175.6 115.4L182.9 115.4L179.3 121.6Z" fill="#ff00ff"/><path d="M177.7 111.5L185.0 111.5L181.4 117.7Z" fill="#ff00ff"/><path d="M179.6 108.2L186.9 108.2L183.3 114.4Z" fill="#ff00ff"/><path d="M182.2 105.5L189.5 105.5L185.8 111.7Z" fill="#ff00ff"/><path d="M184.5 104.9L191.8 104.9L188.1 111.1Z" fill="#ff00ff"/><path d="M186.8 99.6L194.1 99.6L190.4 105.8Z" fill="#ff00ff"/><path d="M188.3 96.4L195.6 96.4L192.0 102.6Z" fill="#ff00ff"/><path d="M190.4 94.3L197.7 94.3L194.1 100.5Z" fill="#ff00ff"/><path d="M192.9 91.6L200.2 91.6L196.6 97.8Z" fill="#ff00ff"/><path d="M195.0 88.7L202.3 88.7L198.7 94.9Z" fill="#ff00ff"/><path d="M197.1 84.8L204.4 84.8L200.7 91.0Z" fill="#ff00ff"/><path d="M199.7 84.8L207.0 84.8L203.4 91.0Z" fill="#ff00ff"/><path d="M201.2 80.9L208.5 80.9L204.8 87.1Z" fill="#ff00ff"/><path d="M203.4 80.2L210.7 80.2L207.0 86.4Z" fill="#ff00ff"/><path d="M206.0 79.7L213.3 79.7L209.7 85.9Z" fill="#ff00ff"/><path d="M208.1 78.9L215.4 78.9L211.8 85.1Z" fill="#ff00ff"/><path d="M210.3 77.7L217.6 77.7L213.9 83.9Z" fill="#ff00ff"/><path d="M212.2 75.9L219.5 75.9L215.9 82.1Z" fill="#ff00ff"/><path d="M213.8 74.9L221.1 74.9L217.4 81.1Z" fill="#ff00ff"/><path d="M216.9 73.4L224.2 73.4L220.5 79.6Z" fill="#ff00ff"/><path d="M218.4 74.0L225.7 74.0L222.0 80.2Z" fill="#ff00ff"/><path d="M220.7 72.6L228.0 72.6L224.4 78.8Z" fill="#ff00ff"/><path d="M223.3 75.0L230.6 75.0L226.9 81.2Z" fill="#ff00ff"/><path d="M225.2 74.7L232.5 74.7L228.8 80.9Z" fill="#ff00ff"/><path d="M227.2 76.9L234.5 76.9L230.9 83.1Z" fill="#ff00ff"/><path d="M229.5 78.8L236.8 78.8L233.1 85.0Z" fill="#ff00ff"/><path d="M231.7 78.8L239.0 78.8L235.4 85.0Z" fill="#ff00ff"/><path d="M233.7 76.7L241.0 76.7L237.4 82.9Z" fill="#ff00ff"/><path d="M235.9 78.0L243.2 78.0L239.5 84.2Z" fill="#ff00ff"/><path d="M237.7 75.7L245.0 75.7L241.4 81.9Z" fill="#ff00ff"/><path d="M240.0 75.5L247.3 75.5L243.6 81.7Z" fill="#ff00ff"/><path d="M242.2 77.5L249.5 77.5L245.9 83.7Z" fill="#ff00ff"/><path d="M244.0 80.4L251.3 80.4L247.6 86.6Z" fill="#ff00ff"/><path d="M246.7 85.1L254.0 85.1L250.3 91.3Z" fill="#ff00ff"/><path d="M248.8 85.8L256.1 85.8L252.5 92.0Z" fill="#ff00ff"/><path d="M250.6 87.2L257.9 87.2L254.2 93.4Z" fill="#ff00ff"/><path d="M253.0 91.8L260.3 91.8L256.6 98.0Z" fill="#ff00ff"/><path d="M255.4 93.1L262.7 93.1L259.0 99.3Z" fill="#ff00ff"/><path d="M257.5 91.7L264.8 91.7L261.1 97.9Z" fill="#ff00ff"/><path d="M259.2 95.1L266.5 95.1L262.8 101.3Z" fill="#ff00ff"/>
<path d="M46.5 295.5L48.7 295.5L50.8 295.6L53.0 295.6L55.1 295.6L57.3 295.6L59.4 295.7L61.6 295.7L63.7 295.7L65.9 295.7L68.1 295.1L70.2 294.3L72.4 293.4L74.5 292.5L76.7 291.6L78.8 290.5L81.0 289.4L83.1 288.3L85.3 287.2L87.4 286.2L89.6 284.6L91.8 282.7L93.9 280.8L96.1 279.0L98.2 277.1L100.4 275.2L102.5 272.8L104.7 270.5L106.8 268.1L109.0 265.6L111.1 262.8L113.3 259.6L115.5 256.4L117.6 253.0L119.8 249.5L122.0 243.4L124.1 237.9L126.3 231.1L128.5 225.7L130.7 219.7L132.6 214.1L135.0 208.3L136.8 203.0L139.0 197.0L141.2 191.2L143.3 186.4L145.5 183.6L147.7 179.5L149.9 177.7L152.2 174.7L154.3 173.0L156.6 171.4L158.5 167.8L161.0 166.5L163.1 161.4L165.0 158.2L167.3 158.7L169.3 156.8L171.7 155.0L173.8 152.5L175.9 148.6L178.0 144.8L180.2 145.0L182.2 143.9L184.6 141.4L186.6 139.8L188.6 138.2L190.7 134.6L193.1 131.9L195.3 130.0L197.3 126.1L199.3 123.7L201.9 121.9L203.7 119.5L206.2 118.2L208.3 115.9L210.5 118.1L212.5 119.6L214.6 120.8L216.8 118.0L218.9 115.9L221.3 112.8L223.0 112.0L225.2 115.2L227.6 119.8L229.6 121.9L231.9 125.3L234.0 125.1L236.3 124.6L238.5 123.4" fill="none" stroke="#008000" stroke-width="1"/>
<path d="M43.0 295.5L46.5 291.5L50.0 295.5L46.5 299.5Z" fill="#008000"/><path d="M45.2 295.5L48.7 291.5L52.2 295.5L48.7 299.5Z" fill="#008000"/><path d="M47.3 295.6L50.8 291.6L54.3 295.6L50.8 299.6Z" fill="#008000"/><path d="M49.5 295.6L53.0 291.6L56.5 295.6L53.0 299.6Z" fill="#008000"/><path d="M51.6 295.6L55.1 291.6L58.6 295.6L55.1 299.6Z" fill="#008000"/><path d="M53.8 295.6L57.3 291.6L60.8 295.6L57.3 299.6Z" fill="#008000"/><path d="M55.9 295.7L59.4 291.7L62.9 295.7L59.4 299.7Z" fill="#008000"/><path d="M58.1 295.7L61.6 291.7L65.1 295.7L61.6 299.7Z" fill="#008000"/><path d="M60.2 295.7L63.7 291.7L67.2 295.7L63.7 299.7Z" fill="#008000"/><path d="M62.4 295.7L65.9 291.7L69.4 295.7L65.9 299.7Z" fill="#008000"/><path d="M64.6 295.1L68.1 291.1L71.6 295.1L68.1 299.1Z" fill="#008000"/><path d="M66.7 294.3L70.2 290.3L73.7 294.3L70.2 298.3Z" fill="#008000"/><path d="M68.9 293.4L72.4 289.4L75.9 293.4L72.4 297.4Z" fill="#008000"/><path d="M71.0 292.5L74.5 288.5L78.0 292.5L74.5 296.5Z" fill="#008000"/><path d="M73.2 291.6L76.7 287.6L80.2 291.6L76.7 295.6Z" fill="#008000"/><path d="M75.3 290.5L78.8 286.5L82.3 290.5L78.8 294.5Z" fill="#008000"/><path d="M77.5 289.4L81.0 285.4L84.5 289.4L81.0 293.4Z" fill="#008000"/><path d="M79.6 288.3L83.1 284.3L86.6 288.3L83.1 292.3Z" fill="#008000"/><path d="M81.8 287.2L85.3 283.2L88.8 287.2L85.3 291.2Z" fill="#008000"/><path d="M83.9 286.2L87.4 282.2L90.9 286.2L87.4 290.2Z" fill="#008000"/><path d="M86.1 284.6L89.6 280.6L93.1 284.6L89.6 288.6Z" fill="#008000"/><path d="M88.3 282.7L91.8 278.7L95.3 282.7L91.8 286.7Z" fill="#008000"/><path d="M90.4 280.8L93.9 276.8L97.4 280.8L93.9 284.8Z" fill="#008000"/><path d="M92.6 279.0L96.1 275.0L99.6 279.0L96.1 283.0Z" fill="#008000"/><path d="M94.7 277.1L98.2 273.1L101.7 277.1L98.2 281.1Z" fill="#008000"/><path d="M96.9 275.2L100.4 271.2L103.9 275.2L100.4 279.2Z" fill="#008000"/><path d="M99.0 272.8L102.5 268.8L106.0 272.8L102.5 276.8Z" fill="#008000"/><path d="M101.2 270.5L104.7 266.5L108.2 270.5L104.7 274.5Z" fill="#008000"/><path d="M103.3 268.1L106.8 264.1L110.3 268.1L106.8 272.1Z" fill="#008000"/><path d="M105.5 265.6L109.0 261.6L112.5 265.6L109.0 269.6Z" fill="#008000"/><path d="M107.6 262.8L111.1 258.8L114.6 262.8L111.1 266.8Z" fill="#008000"/><path d="M109.8 259.6L113.3 255.6L116.8 259.6L113.3 263.6Z" fill="#008000"/><path d="M112.0 256.4L115.5 252.4L119.0 256.4L115.5 260.4Z" fill="#008000"/><path d="M114.1 253.0L117.6 249.0L121.1 253.0L117.6 257.0Z" fill="#008000"/><path d="M116.3 249.5L119.8 245.5L123.3 249.5L119.8 253.5Z" fill="#008000"/><path d="M118.5 243.4L122.0 239.4L125.5 243.4L122.0 247.4Z" fill="#008000"/><path d="M120.6 237.9L124.1 233.9L127.6 237.9L124.1 241.9Z" fill="#008000"/><path d="M122.8 231.1L126.3 227.1L129.8 231.1L126.3 235.1Z" fill="#008000"/><path d="M125.0 225.7L128.5 221.7L132.0 225.7L128.5 229.7Z" fill="#008000"/><path d="M127.2 219.7L130.7 215.7L134.2 219.7L130.7 223.7Z" fill="#008000"/><path d="M129.1 214.1L132.6 210.1L136.1 214.1L132.6 218.1Z" fill="#008000"/><path d="M131.5 208.3L135.0 204.3L138.5 208.3L135.0 212.3Z" fill="#008000"/><path d="M133.3 203.0L136.8 199.0L140.3 203.0L136.8 207.0Z" fill="#008000"/><path d="M135.5 197.0L139.0 193.0L142.5 197.0L139.0 201.0Z" fill="#008000"/><path d="M137.7 191.2L141.2 187.2L144.7 191.2L141.2 195.2Z" fill="#008000"/><path d="M139.8 186.4L143.3 182.4L146.8 186.4L143.3 190.4Z" fill="#008000"/><path d="M142.0 183.6L145.5 179.6L149.0 183.6L145.5 187.6Z" fill="#008000"/><path d="M144.2 179.5L147.7 175.5L151.2 179.5L147.7 183.5Z" fill="#008000"/><path d="M146.4 177.7L149.9 173.7L153.4 177.7L149.9 181.7Z" fill="#008000"/><path d="M148.7 174.7L152.2 170.7L155.7 174.7L152.2 178.7Z" fill="#008000"/><path d="M150.8 173.0L154.3 169.0L157.8 173.0L154.3 177.0Z" fill="#008000"/><path d="M153.1 171.4L156.6 167.4L160.1 171.4L156.6 175.4Z" fill="#008000"/><path d="M155.0 167.8L158.5 163.8L162.0 167.8L158.5 171.8Z" fill="#008000"/><path d="M157.5 166.5L161.0 162.5L164.5 166.5L161.0 170.5Z" fill="#008000"/><path d="M159.6 161.4L163.1 157.4L166.6 161.4L163.1 165.4Z" fill="#008000"/><path d="M161.5 158.2L165.0 154.2L168.5 158.2L165.0 162.2Z" fill="#008000"/><path d="M163.8 158.7L167.3 154.7L170.8 158.7L167.3 162.7Z" fill="#008000"/><path d="M165.8 156.8L169.3 152.8L172.8 156.8L169.3 160.8Z" fill="#008000"/><path d="M168.2 155.0L171.7 151.0L175.2 155.0L171.7 159.0Z" fill="#008000"/><path d="M170.3 152.5L173.8 148.5L177.3 152.5L173.8 156.5Z" fill="#008000"/><path d="M172.4 148.6L175.9 144.6L179.4 148.6L175.9 152.6Z" fill="#008000"/><path d="M174.5 144.8L178.0 140.8L181.5 144.8L178.0 148.8Z" fill="#008000"/><path d="M176.7 145.0L180.2 141.0L183.7 145.0L180.2 149.0Z" fill="#008000"/><path d="M178.7 143.9L182.2 139.9L185.7 143.9L182.2 147.9Z" fill="#008000"/><path d="M181.1 141.4L184.6 137.4L188.1 141.4L184.6 145.4Z" fill="#008000"/><path d="M183.1 139.8L186.6 135.8L190.1 139.8L186.6 143.8Z" fill="#008000"/><path d="M185.1 138.2L188.6 134.2L192.1 138.2L188.6 142.2Z" fill="#008000"/><path d="M187.2 134.6L190.7 130.6L194.2 134.6L190.7 138.6Z" fill="#008000"/><path d="M189.6 131.9L193.1 127.9L196.6 131.9L193.1 135.9Z" fill="#008000"/><path d="M191.8 130.0L195.3 126.0L198.8 130.0L195.3 134.0Z" fill="#008000"/><path d="M193.8 126.1L197.3 122.1L200.8 126.1L197.3 130.1Z" fill="#008000"/><path d="M195.8 123.7L199.3 119.7L202.8 123.7L199.3 127.7Z" fill="#008000"/><path d="M198.4 121.9L201.9 117.9L205.4 121.9L201.9 125.9Z" fill="#008000"/><path d="M200.2 119.5L203.7 115.5L207.2 119.5L203.7 123.5Z" fill="#008000"/><path d="M202.7 118.2L206.2 114.2L209.7 118.2L206.2 122.2Z" fill="#008000"/><path d="M204.8 115.9L208.3 111.9L211.8 115.9L208.3 119.9Z" fill="#008000"/><path d="M207.0 118.1L210.5 114.1L214.0 118.1L210.5 122.1Z" fill="#008000"/><path d="M209.0 119.6L212.5 115.6L216.0 119.6L212.5 123.6Z" fill="#008000"/><path d="M211.1 120.8L214.6 116.8L218.1 120.8L214.6 124.8Z" fill="#008000"/><path d="M213.3 118.0L216.8 114.0L220.3 118.0L216.8 122.0Z" fill="#008000"/><path d="M215.4 115.9L218.9 111.9L222.4 115.9L218.9 119.9Z" fill="#008000"/><path d="M217.8 112.8L221.3 108.8L224.8 112.8L221.3 116.8Z" fill="#008000"/><path d="M219.5 112.0L223.0 108.0L226.5 112.0L223.0 116.0Z" fill="#008000"/><path d="M221.7 115.2L225.2 111.2L228.7 115.2L225.2 119.2Z" fill="#008000"/><path d="M224.1 119.8L227.6 115.8L231.1 119.8L227.6 123.8Z" fill="#008000"/><path d="M226.1 121.9L229.6 117.9L233.1 121.9L229.6 125.9Z" fill="#008000"/><path d="M228.4 125.3L231.9 121.3L235.4 125.3L231.9 129.3Z" fill="#008000"/><path d="M230.5 125.1L234.0 121.1L237.5 125.1L234.0 129.1Z" fill="#008000"/><path d="M232.8 124.6L236.3 120.6L239.8 124.6L236.3 128.6Z" fill="#008000"/><path d="M235.0 123.4L238.5 119.4L242.0 123.4L238.5 127.4Z" fill="#008000"/>
<rect x="220.6" y="222.6" width="174.00000000000003" height="84.20000000000002" fill="#fff" stroke="#5a5a5a" stroke-width="1.1"/>
<path d="M226.2 232.4H248.8" stroke="#000000" stroke-width="1"/>
<rect x="234.9" y="229.8" width="5.2" height="5.2" fill="#000000"/>
<text x="253.2" y="236.1" class="lg it">We</text><text x="268.1" y="239.5" class="sb">g</text><text x="271.0" y="236.1" class="lg" style="letter-spacing:0.25px">=230</text>
<text x="299.8" y="236.1" class="lg it">&#967;</text>
 <text x="307.7" y="236.1" class="lg" style="letter-spacing:0.4px">=0.123</text>
<text x="345.9" y="236.1" class="lg it">We</text><text x="360.8" y="239.5" class="sb">d</text><text x="363.7" y="236.1" class="lg" style="letter-spacing:0.45px">=3.45</text>
<path d="M226.2 249H248.8" stroke="#ff0000" stroke-width="1"/>
<circle cx="237.5" cy="249.0" r="3.0" fill="#ff0000"/>
<text x="253.2" y="252.7" class="lg it">We</text><text x="268.1" y="256.1" class="sb">g</text><text x="271.0" y="252.7" class="lg" style="letter-spacing:0.25px">=230</text>
<text x="299.8" y="252.7" class="lg it">&#967;</text>
 <text x="307.7" y="252.7" class="lg" style="letter-spacing:0.4px">=0.295</text>
<text x="345.9" y="252.7" class="lg it">We</text><text x="360.8" y="256.1" class="sb">d</text><text x="363.7" y="252.7" class="lg" style="letter-spacing:0.45px">=19.9</text>
<path d="M226.2 265.6H248.8" stroke="#0000ff" stroke-width="1"/>
<path d="M233.8 267.6L241.2 267.6L237.5 261.4Z" fill="#0000ff"/>
<text x="253.2" y="269.3" class="lg it">We</text><text x="268.1" y="272.7" class="sb">g</text><text x="271.0" y="269.3" class="lg" style="letter-spacing:0.25px">=230</text>
<text x="299.8" y="269.3" class="lg it">&#967;</text>
 <text x="307.7" y="269.3" class="lg" style="letter-spacing:0.4px">=0.399</text>
<text x="345.9" y="269.3" class="lg it">We</text><text x="360.8" y="272.7" class="sb">d</text><text x="363.7" y="269.3" class="lg" style="letter-spacing:0.45px">=36.5</text>
<path d="M226.2 282.2H248.8" stroke="#ff00ff" stroke-width="1"/>
<path d="M233.8 280.2L241.2 280.2L237.5 286.4Z" fill="#ff00ff"/>
<text x="253.2" y="285.9" class="lg it">We</text><text x="268.1" y="289.3" class="sb">g</text><text x="271.0" y="285.9" class="lg" style="letter-spacing:0.25px">=230</text>
<text x="299.8" y="285.9" class="lg it">&#967;</text>
 <text x="307.7" y="285.9" class="lg" style="letter-spacing:0.4px">=0.516</text>
<text x="345.9" y="285.9" class="lg it">We</text><text x="360.8" y="289.3" class="sb">d</text><text x="363.7" y="285.9" class="lg" style="letter-spacing:0.45px">=60.9</text>
<path d="M226.2 298.9H248.8" stroke="#008000" stroke-width="1"/>
<path d="M234.0 298.9L237.5 294.9L241.0 298.9L237.5 302.9Z" fill="#008000"/>
<text x="253.2" y="302.6" class="lg it">We</text><text x="268.1" y="306.0" class="sb">g</text><text x="271.0" y="302.6" class="lg" style="letter-spacing:0.25px">=230</text>
<text x="299.8" y="302.6" class="lg it">&#967;</text>
 <text x="307.7" y="302.6" class="lg" style="letter-spacing:0.4px">=0.695</text>
<text x="345.9" y="302.6" class="lg it">We</text><text x="360.8" y="306.0" class="sb">d</text><text x="363.7" y="302.6" class="lg" style="letter-spacing:0.45px">=111</text>
<rect x="469.2" y="23.5" width="358.00000000000006" height="288.8" fill="none" stroke="#000" stroke-width="1.15"/>
<path d="M469.20 312.3v5.6M469.20 23.5v5.6M528.87 312.3v5.6M528.87 23.5v5.6M588.53 312.3v5.6M588.53 23.5v5.6M648.20 312.3v5.6M648.20 23.5v5.6M707.87 312.3v5.6M707.87 23.5v5.6M767.53 312.3v5.6M767.53 23.5v5.6M827.20 312.3v5.6M827.20 23.5v5.6M499.03 312.3v3.0M499.03 23.5v3.0M558.70 312.3v3.0M558.70 23.5v3.0M618.37 312.3v3.0M618.37 23.5v3.0M678.03 312.3v3.0M678.03 23.5v3.0M737.70 312.3v3.0M737.70 23.5v3.0M797.37 312.3v3.0M797.37 23.5v3.0M469.2 312.30h-5.6M827.2 312.30h-5.6M469.2 267.85h-5.6M827.2 267.85h-5.6M469.2 223.40h-5.6M827.2 223.40h-5.6M469.2 178.95h-5.6M827.2 178.95h-5.6M469.2 134.50h-5.6M827.2 134.50h-5.6M469.2 90.05h-5.6M827.2 90.05h-5.6M469.2 45.60h-5.6M827.2 45.60h-5.6M469.2 290.07h-3.0M827.2 290.07h-3.0M469.2 245.62h-3.0M827.2 245.62h-3.0M469.2 201.18h-3.0M827.2 201.18h-3.0M469.2 156.72h-3.0M827.2 156.72h-3.0M469.2 112.28h-3.0M827.2 112.28h-3.0M469.2 67.82h-3.0M827.2 67.82h-3.0" stroke="#000" stroke-width="1.15" fill="none"/>
<text x="469.2" y="331.6" text-anchor="middle" class="tk">0</text>
<text x="528.9" y="331.6" text-anchor="middle" class="tk">1</text>
<text x="588.5" y="331.6" text-anchor="middle" class="tk">2</text>
<text x="648.2" y="331.6" text-anchor="middle" class="tk">3</text>
<text x="707.9" y="331.6" text-anchor="middle" class="tk">4</text>
<text x="767.5" y="331.6" text-anchor="middle" class="tk">5</text>
<text x="827.2" y="331.6" text-anchor="middle" class="tk">6</text>
<text x="460.1" y="316.4" text-anchor="end" class="tk">0</text>
<text x="460.1" y="272.0" text-anchor="end" class="tk">10</text>
<text x="460.1" y="227.5" text-anchor="end" class="tk">20</text>
<text x="460.1" y="183.0" text-anchor="end" class="tk">30</text>
<text x="460.1" y="138.6" text-anchor="end" class="tk">40</text>
<text x="460.1" y="94.2" text-anchor="end" class="tk">50</text>
<text x="460.1" y="49.7" text-anchor="end" class="tk">60</text>
<path d="M472.5 294.9L474.8 294.9L477.1 294.9L479.4 294.9L481.7 294.9L484.0 294.9L486.3 294.9L488.6 294.9L490.9 294.9L493.3 294.9L495.6 294.9L497.9 294.9L500.2 294.9L502.5 294.4L504.8 294.0L507.1 293.5L509.4 292.7L511.7 291.1L514.0 289.5L516.3 287.7L518.6 285.6L520.9 283.6L523.2 281.5L525.5 279.4L527.8 277.3L530.2 275.2L532.5 273.0L534.8 270.7L537.1 268.4L539.4 266.1L541.7 263.8L544.0 261.6L546.3 259.3L548.6 257.0L550.9 254.9L553.2 252.8L555.5 250.8L557.8 247.9L560.1 243.9L562.5 241.4L564.7 239.2L567.1 236.7L569.4 234.6L571.6 232.5L574.0 230.8L576.3 228.6L578.6 226.6L580.9 223.7L583.2 221.0L585.4 217.7L587.8 214.4L590.1 211.5L592.5 207.9L594.8 205.0L597.1 201.8L599.4 198.2L601.5 193.1L603.9 188.8L606.3 183.7L608.5 179.2L610.7 175.5L613.2 170.1L615.6 163.0L617.6 157.4L620.0 149.6L622.5 144.8L624.6 139.9L627.0 136.1L629.4 132.4L631.6 131.2L634.0 129.7L636.2 128.1L638.4 128.0L640.7 126.3L643.0 124.7L645.6 121.9L647.7 120.6L650.3 120.2L652.2 117.8L654.9 115.0L657.2 109.6L659.3 107.1L661.5 101.9L663.8 98.0L666.4 98.6L668.6 98.1L671.0 98.2L673.1 93.2L675.3 90.0L677.7 85.2L680.0 84.3L682.5 83.0L684.6 80.1L686.9 78.1L689.3 77.2L691.6 74.2L693.7 72.1L696.0 67.7L698.6 63.7L700.7 62.3L703.0 60.3L705.4 58.8L707.7 58.1L709.8 57.3L712.2 54.5L714.6 52.6L716.9 48.6L719.4 48.5L721.7 46.8L723.7 49.9L726.0 55.0L728.4 53.7L730.6 52.1L733.0 52.5L735.5 51.5L737.4 53.3L739.9 57.4L742.6 60.3L744.8 61.9L747.3 65.7L749.4 65.8L751.5 66.1L753.8 67.2L756.2 68.2L758.5 67.5L760.8 68.6L763.0 68.7L765.1 68.8L767.7 70.7L770.4 73.8L772.1 73.4L774.6 76.9L777.1 77.8L779.0 79.0L781.1 80.4L783.9 83.7L785.9 84.5L788.7 85.5L790.7 86.7L793.1 87.5L795.3 88.6L797.7 89.9L800.2 92.1L802.4 93.9L804.8 94.7L806.9 95.1L809.5 96.3L811.4 97.7" fill="none" stroke="#000000" stroke-width="1"/>
<rect x="469.9" y="292.3" width="5.2" height="5.2" fill="#000000"/><rect x="472.2" y="292.3" width="5.2" height="5.2" fill="#000000"/><rect x="474.5" y="292.3" width="5.2" height="5.2" fill="#000000"/><rect x="476.8" y="292.3" width="5.2" height="5.2" fill="#000000"/><rect x="479.1" y="292.3" width="5.2" height="5.2" fill="#000000"/><rect x="481.4" y="292.3" width="5.2" height="5.2" fill="#000000"/><rect x="483.7" y="292.3" width="5.2" height="5.2" fill="#000000"/><rect x="486.0" y="292.3" width="5.2" height="5.2" fill="#000000"/><rect x="488.3" y="292.3" width="5.2" height="5.2" fill="#000000"/><rect x="490.7" y="292.3" width="5.2" height="5.2" fill="#000000"/><rect x="493.0" y="292.3" width="5.2" height="5.2" fill="#000000"/><rect x="495.3" y="292.3" width="5.2" height="5.2" fill="#000000"/><rect x="497.6" y="292.3" width="5.2" height="5.2" fill="#000000"/><rect x="499.9" y="291.8" width="5.2" height="5.2" fill="#000000"/><rect x="502.2" y="291.4" width="5.2" height="5.2" fill="#000000"/><rect x="504.5" y="290.9" width="5.2" height="5.2" fill="#000000"/><rect x="506.8" y="290.1" width="5.2" height="5.2" fill="#000000"/><rect x="509.1" y="288.5" width="5.2" height="5.2" fill="#000000"/><rect x="511.4" y="286.9" width="5.2" height="5.2" fill="#000000"/><rect x="513.7" y="285.1" width="5.2" height="5.2" fill="#000000"/><rect x="516.0" y="283.0" width="5.2" height="5.2" fill="#000000"/><rect x="518.3" y="281.0" width="5.2" height="5.2" fill="#000000"/><rect x="520.6" y="278.9" width="5.2" height="5.2" fill="#000000"/><rect x="522.9" y="276.8" width="5.2" height="5.2" fill="#000000"/><rect x="525.2" y="274.7" width="5.2" height="5.2" fill="#000000"/><rect x="527.6" y="272.6" width="5.2" height="5.2" fill="#000000"/><rect x="529.9" y="270.4" width="5.2" height="5.2" fill="#000000"/><rect x="532.2" y="268.1" width="5.2" height="5.2" fill="#000000"/><rect x="534.5" y="265.8" width="5.2" height="5.2" fill="#000000"/><rect x="536.8" y="263.5" width="5.2" height="5.2" fill="#000000"/><rect x="539.1" y="261.2" width="5.2" height="5.2" fill="#000000"/><rect x="541.4" y="259.0" width="5.2" height="5.2" fill="#000000"/><rect x="543.7" y="256.7" width="5.2" height="5.2" fill="#000000"/><rect x="546.0" y="254.4" width="5.2" height="5.2" fill="#000000"/><rect x="548.3" y="252.3" width="5.2" height="5.2" fill="#000000"/><rect x="550.6" y="250.2" width="5.2" height="5.2" fill="#000000"/><rect x="552.9" y="248.2" width="5.2" height="5.2" fill="#000000"/><rect x="555.2" y="245.3" width="5.2" height="5.2" fill="#000000"/><rect x="557.5" y="241.3" width="5.2" height="5.2" fill="#000000"/><rect x="559.9" y="238.8" width="5.2" height="5.2" fill="#000000"/><rect x="562.1" y="236.6" width="5.2" height="5.2" fill="#000000"/><rect x="564.5" y="234.1" width="5.2" height="5.2" fill="#000000"/><rect x="566.8" y="232.0" width="5.2" height="5.2" fill="#000000"/><rect x="569.0" y="229.9" width="5.2" height="5.2" fill="#000000"/><rect x="571.4" y="228.2" width="5.2" height="5.2" fill="#000000"/><rect x="573.7" y="226.0" width="5.2" height="5.2" fill="#000000"/><rect x="576.0" y="224.0" width="5.2" height="5.2" fill="#000000"/><rect x="578.3" y="221.1" width="5.2" height="5.2" fill="#000000"/><rect x="580.6" y="218.4" width="5.2" height="5.2" fill="#000000"/><rect x="582.8" y="215.1" width="5.2" height="5.2" fill="#000000"/><rect x="585.2" y="211.8" width="5.2" height="5.2" fill="#000000"/><rect x="587.5" y="208.9" width="5.2" height="5.2" fill="#000000"/><rect x="589.9" y="205.3" width="5.2" height="5.2" fill="#000000"/><rect x="592.2" y="202.4" width="5.2" height="5.2" fill="#000000"/><rect x="594.5" y="199.2" width="5.2" height="5.2" fill="#000000"/><rect x="596.8" y="195.6" width="5.2" height="5.2" fill="#000000"/><rect x="598.9" y="190.5" width="5.2" height="5.2" fill="#000000"/><rect x="601.3" y="186.2" width="5.2" height="5.2" fill="#000000"/><rect x="603.7" y="181.1" width="5.2" height="5.2" fill="#000000"/><rect x="605.9" y="176.6" width="5.2" height="5.2" fill="#000000"/><rect x="608.1" y="172.9" width="5.2" height="5.2" fill="#000000"/><rect x="610.6" y="167.5" width="5.2" height="5.2" fill="#000000"/><rect x="613.0" y="160.4" width="5.2" height="5.2" fill="#000000"/><rect x="615.0" y="154.8" width="5.2" height="5.2" fill="#000000"/><rect x="617.4" y="147.0" width="5.2" height="5.2" fill="#000000"/><rect x="619.9" y="142.2" width="5.2" height="5.2" fill="#000000"/><rect x="622.0" y="137.3" width="5.2" height="5.2" fill="#000000"/><rect x="624.4" y="133.5" width="5.2" height="5.2" fill="#000000"/><rect x="626.8" y="129.8" width="5.2" height="5.2" fill="#000000"/><rect x="629.0" y="128.6" width="5.2" height="5.2" fill="#000000"/><rect x="631.4" y="127.1" width="5.2" height="5.2" fill="#000000"/><rect x="633.6" y="125.5" width="5.2" height="5.2" fill="#000000"/><rect x="635.8" y="125.4" width="5.2" height="5.2" fill="#000000"/><rect x="638.1" y="123.7" width="5.2" height="5.2" fill="#000000"/><rect x="640.4" y="122.1" width="5.2" height="5.2" fill="#000000"/><rect x="643.0" y="119.3" width="5.2" height="5.2" fill="#000000"/><rect x="645.1" y="118.0" width="5.2" height="5.2" fill="#000000"/><rect x="647.7" y="117.6" width="5.2" height="5.2" fill="#000000"/><rect x="649.6" y="115.2" width="5.2" height="5.2" fill="#000000"/><rect x="652.3" y="112.4" width="5.2" height="5.2" fill="#000000"/><rect x="654.6" y="107.0" width="5.2" height="5.2" fill="#000000"/><rect x="656.7" y="104.5" width="5.2" height="5.2" fill="#000000"/><rect x="658.9" y="99.3" width="5.2" height="5.2" fill="#000000"/><rect x="661.2" y="95.4" width="5.2" height="5.2" fill="#000000"/><rect x="663.8" y="96.0" width="5.2" height="5.2" fill="#000000"/><rect x="666.0" y="95.5" width="5.2" height="5.2" fill="#000000"/><rect x="668.4" y="95.6" width="5.2" height="5.2" fill="#000000"/><rect x="670.5" y="90.6" width="5.2" height="5.2" fill="#000000"/><rect x="672.7" y="87.4" width="5.2" height="5.2" fill="#000000"/><rect x="675.1" y="82.6" width="5.2" height="5.2" fill="#000000"/><rect x="677.4" y="81.7" width="5.2" height="5.2" fill="#000000"/><rect x="679.9" y="80.4" width="5.2" height="5.2" fill="#000000"/><rect x="682.0" y="77.5" width="5.2" height="5.2" fill="#000000"/><rect x="684.3" y="75.5" width="5.2" height="5.2" fill="#000000"/><rect x="686.7" y="74.6" width="5.2" height="5.2" fill="#000000"/><rect x="689.0" y="71.6" width="5.2" height="5.2" fill="#000000"/><rect x="691.1" y="69.5" width="5.2" height="5.2" fill="#000000"/><rect x="693.4" y="65.1" width="5.2" height="5.2" fill="#000000"/><rect x="696.0" y="61.1" width="5.2" height="5.2" fill="#000000"/><rect x="698.1" y="59.7" width="5.2" height="5.2" fill="#000000"/><rect x="700.4" y="57.7" width="5.2" height="5.2" fill="#000000"/><rect x="702.8" y="56.2" width="5.2" height="5.2" fill="#000000"/><rect x="705.1" y="55.5" width="5.2" height="5.2" fill="#000000"/><rect x="707.2" y="54.7" width="5.2" height="5.2" fill="#000000"/><rect x="709.6" y="51.9" width="5.2" height="5.2" fill="#000000"/><rect x="712.0" y="50.0" width="5.2" height="5.2" fill="#000000"/><rect x="714.3" y="46.0" width="5.2" height="5.2" fill="#000000"/><rect x="716.8" y="45.9" width="5.2" height="5.2" fill="#000000"/><rect x="719.1" y="44.2" width="5.2" height="5.2" fill="#000000"/><rect x="721.1" y="47.3" width="5.2" height="5.2" fill="#000000"/><rect x="723.4" y="52.4" width="5.2" height="5.2" fill="#000000"/><rect x="725.8" y="51.1" width="5.2" height="5.2" fill="#000000"/><rect x="728.0" y="49.5" width="5.2" height="5.2" fill="#000000"/><rect x="730.4" y="49.9" width="5.2" height="5.2" fill="#000000"/><rect x="732.9" y="48.9" width="5.2" height="5.2" fill="#000000"/><rect x="734.8" y="50.7" width="5.2" height="5.2" fill="#000000"/><rect x="737.3" y="54.8" width="5.2" height="5.2" fill="#000000"/><rect x="740.0" y="57.7" width="5.2" height="5.2" fill="#000000"/><rect x="742.2" y="59.3" width="5.2" height="5.2" fill="#000000"/><rect x="744.7" y="63.1" width="5.2" height="5.2" fill="#000000"/><rect x="746.8" y="63.2" width="5.2" height="5.2" fill="#000000"/><rect x="748.9" y="63.5" width="5.2" height="5.2" fill="#000000"/><rect x="751.2" y="64.6" width="5.2" height="5.2" fill="#000000"/><rect x="753.6" y="65.6" width="5.2" height="5.2" fill="#000000"/><rect x="755.9" y="64.9" width="5.2" height="5.2" fill="#000000"/><rect x="758.2" y="66.0" width="5.2" height="5.2" fill="#000000"/><rect x="760.4" y="66.1" width="5.2" height="5.2" fill="#000000"/><rect x="762.5" y="66.2" width="5.2" height="5.2" fill="#000000"/><rect x="765.1" y="68.1" width="5.2" height="5.2" fill="#000000"/><rect x="767.8" y="71.2" width="5.2" height="5.2" fill="#000000"/><rect x="769.5" y="70.8" width="5.2" height="5.2" fill="#000000"/><rect x="772.0" y="74.3" width="5.2" height="5.2" fill="#000000"/><rect x="774.5" y="75.2" width="5.2" height="5.2" fill="#000000"/><rect x="776.4" y="76.4" width="5.2" height="5.2" fill="#000000"/><rect x="778.5" y="77.8" width="5.2" height="5.2" fill="#000000"/><rect x="781.3" y="81.1" width="5.2" height="5.2" fill="#000000"/><rect x="783.3" y="81.9" width="5.2" height="5.2" fill="#000000"/><rect x="786.1" y="82.9" width="5.2" height="5.2" fill="#000000"/><rect x="788.1" y="84.1" width="5.2" height="5.2" fill="#000000"/><rect x="790.5" y="84.9" width="5.2" height="5.2" fill="#000000"/><rect x="792.7" y="86.0" width="5.2" height="5.2" fill="#000000"/><rect x="795.1" y="87.3" width="5.2" height="5.2" fill="#000000"/><rect x="797.6" y="89.5" width="5.2" height="5.2" fill="#000000"/><rect x="799.8" y="91.3" width="5.2" height="5.2" fill="#000000"/><rect x="802.2" y="92.1" width="5.2" height="5.2" fill="#000000"/><rect x="804.3" y="92.5" width="5.2" height="5.2" fill="#000000"/><rect x="806.9" y="93.7" width="5.2" height="5.2" fill="#000000"/><rect x="808.8" y="95.1" width="5.2" height="5.2" fill="#000000"/>
<path d="M472.5 294.9L474.8 294.9L477.1 294.9L479.4 294.9L481.7 294.9L484.0 294.9L486.3 294.9L488.6 294.9L490.9 294.9L493.2 294.9L495.5 294.8L497.8 294.4L500.1 293.9L502.4 293.3L504.7 292.2L507.0 291.0L509.3 289.9L511.6 288.7L513.9 286.8L516.2 284.7L518.5 282.7L520.8 280.6L523.1 278.3L525.4 276.0L527.7 273.7L530.0 271.1L532.3 268.3L534.6 265.6L537.0 262.8L539.2 260.3L541.6 257.6L543.8 255.0L546.2 252.2L548.4 249.4L550.7 246.3L553.0 241.4L555.3 237.2L557.6 233.4L560.0 229.0L562.2 223.0L564.6 217.8L566.8 211.3L569.1 205.4L571.6 198.2L573.8 194.4L575.8 190.0L578.4 183.9L580.5 179.8L583.0 173.7L585.5 170.6L587.7 167.3L589.5 164.2L592.1 159.5L594.7 154.4L596.9 151.7L599.1 148.0L601.1 143.0L603.4 140.3L606.8 136.2L608.3 132.4L610.8 129.7L612.6 126.6L615.2 122.9L617.0 116.9L620.0 112.6L622.2 110.7L624.4 107.9L626.8 105.2L628.9 100.2L632.0 95.8L633.8 90.5L635.7 86.6L638.2 86.8L640.3 82.9L642.7 82.7L645.7 79.5L647.2 76.7L649.5 76.3L651.8 74.8L654.4 76.6L656.6 76.1L659.4 73.6L661.1 72.0L663.1 71.2L665.6 69.6L668.2 72.0L670.3 70.7L672.8 67.8L675.3 67.8L677.0 67.2L679.5 68.1L681.8 74.0L684.3 70.4L686.3 68.6L688.3 64.5L690.9 66.2L693.5 64.5L695.7 65.4L698.0 68.8L700.6 71.7L702.6 73.2L705.0 74.2L707.4 74.5L709.2 76.6L712.2 78.9L714.1 80.2L716.4 81.4L718.6 81.7L721.6 82.9L723.8 79.9L725.5 81.4L728.1 86.7L730.5 89.8L732.9 92.5L734.6 93.2L737.1 93.2L739.4 91.7L741.9 89.9L743.6 94.4L746.4 99.3L748.8 101.1" fill="none" stroke="#ff0000" stroke-width="1"/>
<circle cx="472.5" cy="294.9" r="3.0" fill="#ff0000"/><circle cx="474.8" cy="294.9" r="3.0" fill="#ff0000"/><circle cx="477.1" cy="294.9" r="3.0" fill="#ff0000"/><circle cx="479.4" cy="294.9" r="3.0" fill="#ff0000"/><circle cx="481.7" cy="294.9" r="3.0" fill="#ff0000"/><circle cx="484.0" cy="294.9" r="3.0" fill="#ff0000"/><circle cx="486.3" cy="294.9" r="3.0" fill="#ff0000"/><circle cx="488.6" cy="294.9" r="3.0" fill="#ff0000"/><circle cx="490.9" cy="294.9" r="3.0" fill="#ff0000"/><circle cx="493.2" cy="294.9" r="3.0" fill="#ff0000"/><circle cx="495.5" cy="294.8" r="3.0" fill="#ff0000"/><circle cx="497.8" cy="294.4" r="3.0" fill="#ff0000"/><circle cx="500.1" cy="293.9" r="3.0" fill="#ff0000"/><circle cx="502.4" cy="293.3" r="3.0" fill="#ff0000"/><circle cx="504.7" cy="292.2" r="3.0" fill="#ff0000"/><circle cx="507.0" cy="291.0" r="3.0" fill="#ff0000"/><circle cx="509.3" cy="289.9" r="3.0" fill="#ff0000"/><circle cx="511.6" cy="288.7" r="3.0" fill="#ff0000"/><circle cx="513.9" cy="286.8" r="3.0" fill="#ff0000"/><circle cx="516.2" cy="284.7" r="3.0" fill="#ff0000"/><circle cx="518.5" cy="282.7" r="3.0" fill="#ff0000"/><circle cx="520.8" cy="280.6" r="3.0" fill="#ff0000"/><circle cx="523.1" cy="278.3" r="3.0" fill="#ff0000"/><circle cx="525.4" cy="276.0" r="3.0" fill="#ff0000"/><circle cx="527.7" cy="273.7" r="3.0" fill="#ff0000"/><circle cx="530.0" cy="271.1" r="3.0" fill="#ff0000"/><circle cx="532.3" cy="268.3" r="3.0" fill="#ff0000"/><circle cx="534.6" cy="265.6" r="3.0" fill="#ff0000"/><circle cx="537.0" cy="262.8" r="3.0" fill="#ff0000"/><circle cx="539.2" cy="260.3" r="3.0" fill="#ff0000"/><circle cx="541.6" cy="257.6" r="3.0" fill="#ff0000"/><circle cx="543.8" cy="255.0" r="3.0" fill="#ff0000"/><circle cx="546.2" cy="252.2" r="3.0" fill="#ff0000"/><circle cx="548.4" cy="249.4" r="3.0" fill="#ff0000"/><circle cx="550.7" cy="246.3" r="3.0" fill="#ff0000"/><circle cx="553.0" cy="241.4" r="3.0" fill="#ff0000"/><circle cx="555.3" cy="237.2" r="3.0" fill="#ff0000"/><circle cx="557.6" cy="233.4" r="3.0" fill="#ff0000"/><circle cx="560.0" cy="229.0" r="3.0" fill="#ff0000"/><circle cx="562.2" cy="223.0" r="3.0" fill="#ff0000"/><circle cx="564.6" cy="217.8" r="3.0" fill="#ff0000"/><circle cx="566.8" cy="211.3" r="3.0" fill="#ff0000"/><circle cx="569.1" cy="205.4" r="3.0" fill="#ff0000"/><circle cx="571.6" cy="198.2" r="3.0" fill="#ff0000"/><circle cx="573.8" cy="194.4" r="3.0" fill="#ff0000"/><circle cx="575.8" cy="190.0" r="3.0" fill="#ff0000"/><circle cx="578.4" cy="183.9" r="3.0" fill="#ff0000"/><circle cx="580.5" cy="179.8" r="3.0" fill="#ff0000"/><circle cx="583.0" cy="173.7" r="3.0" fill="#ff0000"/><circle cx="585.5" cy="170.6" r="3.0" fill="#ff0000"/><circle cx="587.7" cy="167.3" r="3.0" fill="#ff0000"/><circle cx="589.5" cy="164.2" r="3.0" fill="#ff0000"/><circle cx="592.1" cy="159.5" r="3.0" fill="#ff0000"/><circle cx="594.7" cy="154.4" r="3.0" fill="#ff0000"/><circle cx="596.9" cy="151.7" r="3.0" fill="#ff0000"/><circle cx="599.1" cy="148.0" r="3.0" fill="#ff0000"/><circle cx="601.1" cy="143.0" r="3.0" fill="#ff0000"/><circle cx="603.4" cy="140.3" r="3.0" fill="#ff0000"/><circle cx="606.8" cy="136.2" r="3.0" fill="#ff0000"/><circle cx="608.3" cy="132.4" r="3.0" fill="#ff0000"/><circle cx="610.8" cy="129.7" r="3.0" fill="#ff0000"/><circle cx="612.6" cy="126.6" r="3.0" fill="#ff0000"/><circle cx="615.2" cy="122.9" r="3.0" fill="#ff0000"/><circle cx="617.0" cy="116.9" r="3.0" fill="#ff0000"/><circle cx="620.0" cy="112.6" r="3.0" fill="#ff0000"/><circle cx="622.2" cy="110.7" r="3.0" fill="#ff0000"/><circle cx="624.4" cy="107.9" r="3.0" fill="#ff0000"/><circle cx="626.8" cy="105.2" r="3.0" fill="#ff0000"/><circle cx="628.9" cy="100.2" r="3.0" fill="#ff0000"/><circle cx="632.0" cy="95.8" r="3.0" fill="#ff0000"/><circle cx="633.8" cy="90.5" r="3.0" fill="#ff0000"/><circle cx="635.7" cy="86.6" r="3.0" fill="#ff0000"/><circle cx="638.2" cy="86.8" r="3.0" fill="#ff0000"/><circle cx="640.3" cy="82.9" r="3.0" fill="#ff0000"/><circle cx="642.7" cy="82.7" r="3.0" fill="#ff0000"/><circle cx="645.7" cy="79.5" r="3.0" fill="#ff0000"/><circle cx="647.2" cy="76.7" r="3.0" fill="#ff0000"/><circle cx="649.5" cy="76.3" r="3.0" fill="#ff0000"/><circle cx="651.8" cy="74.8" r="3.0" fill="#ff0000"/><circle cx="654.4" cy="76.6" r="3.0" fill="#ff0000"/><circle cx="656.6" cy="76.1" r="3.0" fill="#ff0000"/><circle cx="659.4" cy="73.6" r="3.0" fill="#ff0000"/><circle cx="661.1" cy="72.0" r="3.0" fill="#ff0000"/><circle cx="663.1" cy="71.2" r="3.0" fill="#ff0000"/><circle cx="665.6" cy="69.6" r="3.0" fill="#ff0000"/><circle cx="668.2" cy="72.0" r="3.0" fill="#ff0000"/><circle cx="670.3" cy="70.7" r="3.0" fill="#ff0000"/><circle cx="672.8" cy="67.8" r="3.0" fill="#ff0000"/><circle cx="675.3" cy="67.8" r="3.0" fill="#ff0000"/><circle cx="677.0" cy="67.2" r="3.0" fill="#ff0000"/><circle cx="679.5" cy="68.1" r="3.0" fill="#ff0000"/><circle cx="681.8" cy="74.0" r="3.0" fill="#ff0000"/><circle cx="684.3" cy="70.4" r="3.0" fill="#ff0000"/><circle cx="686.3" cy="68.6" r="3.0" fill="#ff0000"/><circle cx="688.3" cy="64.5" r="3.0" fill="#ff0000"/><circle cx="690.9" cy="66.2" r="3.0" fill="#ff0000"/><circle cx="693.5" cy="64.5" r="3.0" fill="#ff0000"/><circle cx="695.7" cy="65.4" r="3.0" fill="#ff0000"/><circle cx="698.0" cy="68.8" r="3.0" fill="#ff0000"/><circle cx="700.6" cy="71.7" r="3.0" fill="#ff0000"/><circle cx="702.6" cy="73.2" r="3.0" fill="#ff0000"/><circle cx="705.0" cy="74.2" r="3.0" fill="#ff0000"/><circle cx="707.4" cy="74.5" r="3.0" fill="#ff0000"/><circle cx="709.2" cy="76.6" r="3.0" fill="#ff0000"/><circle cx="712.2" cy="78.9" r="3.0" fill="#ff0000"/><circle cx="714.1" cy="80.2" r="3.0" fill="#ff0000"/><circle cx="716.4" cy="81.4" r="3.0" fill="#ff0000"/><circle cx="718.6" cy="81.7" r="3.0" fill="#ff0000"/><circle cx="721.6" cy="82.9" r="3.0" fill="#ff0000"/><circle cx="723.8" cy="79.9" r="3.0" fill="#ff0000"/><circle cx="725.5" cy="81.4" r="3.0" fill="#ff0000"/><circle cx="728.1" cy="86.7" r="3.0" fill="#ff0000"/><circle cx="730.5" cy="89.8" r="3.0" fill="#ff0000"/><circle cx="732.9" cy="92.5" r="3.0" fill="#ff0000"/><circle cx="734.6" cy="93.2" r="3.0" fill="#ff0000"/><circle cx="737.1" cy="93.2" r="3.0" fill="#ff0000"/><circle cx="739.4" cy="91.7" r="3.0" fill="#ff0000"/><circle cx="741.9" cy="89.9" r="3.0" fill="#ff0000"/><circle cx="743.6" cy="94.4" r="3.0" fill="#ff0000"/><circle cx="746.4" cy="99.3" r="3.0" fill="#ff0000"/><circle cx="748.8" cy="101.1" r="3.0" fill="#ff0000"/>
<path d="M472.5 294.9L474.8 294.9L477.1 294.9L479.4 294.9L481.7 294.9L484.0 294.9L486.3 294.9L488.6 294.9L490.9 294.9L493.2 294.6L495.5 294.1L497.8 293.7L500.1 292.7L502.4 291.6L504.7 290.5L507.0 289.4L509.3 288.0L511.6 286.0L513.9 283.9L516.2 281.7L518.5 279.0L520.8 276.3L523.1 273.2L525.4 270.1L527.7 266.3L530.0 262.5L532.3 257.9L534.6 253.4L536.8 248.4L539.2 243.0L541.4 237.7L543.8 232.8L546.1 227.3L548.3 222.2L550.5 217.2L553.0 211.3L555.2 206.0L557.5 200.8L559.9 194.4L562.3 190.9L564.4 187.7L566.7 186.2L569.2 184.4L571.2 180.7L573.5 178.3L576.1 175.8L578.0 170.6L580.5 166.2L582.9 162.8L585.1 159.0L587.5 157.2L590.1 152.8L591.8 149.5L594.1 145.2L596.4 138.7L598.6 132.8L601.3 130.2L603.4 125.1L605.3 119.4L607.9 116.0L610.5 112.9L612.3 108.4L614.7 105.1L617.4 99.0L619.6 95.0L621.9 90.2L624.4 86.5L626.7 83.0L629.0 79.5L632.0 76.8L633.3 78.9L636.0 78.1L637.6 78.4L640.1 79.1L642.6 80.9L645.2 79.3L647.3 81.7L649.9 81.6L651.6 83.4L654.5 82.6L656.9 85.2L658.6 82.7L660.9 85.4L663.4 85.5L666.2 90.8L667.7 87.6L670.2 90.8L672.8 92.0L674.7 90.9L677.2 95.3L679.3 96.3L681.7 97.0L683.7 98.8L685.9 101.1L688.4 101.7L690.7 103.4L693.1 105.4L695.3 104.8L697.7 106.8" fill="none" stroke="#0000ff" stroke-width="1"/>
<path d="M468.9 296.9L476.1 296.9L472.5 290.7Z" fill="#0000ff"/><path d="M471.1 296.9L478.4 296.9L474.8 290.7Z" fill="#0000ff"/><path d="M473.4 296.9L480.7 296.9L477.1 290.7Z" fill="#0000ff"/><path d="M475.7 296.9L483.0 296.9L479.4 290.7Z" fill="#0000ff"/><path d="M478.0 296.9L485.3 296.9L481.7 290.7Z" fill="#0000ff"/><path d="M480.3 296.9L487.6 296.9L484.0 290.7Z" fill="#0000ff"/><path d="M482.6 296.9L489.9 296.9L486.3 290.7Z" fill="#0000ff"/><path d="M484.9 296.9L492.2 296.9L488.6 290.7Z" fill="#0000ff"/><path d="M487.2 296.9L494.5 296.9L490.9 290.7Z" fill="#0000ff"/><path d="M489.5 296.6L496.8 296.6L493.2 290.4Z" fill="#0000ff"/><path d="M491.8 296.1L499.1 296.1L495.5 289.9Z" fill="#0000ff"/><path d="M494.1 295.7L501.4 295.7L497.8 289.5Z" fill="#0000ff"/><path d="M496.4 294.7L503.7 294.7L500.1 288.5Z" fill="#0000ff"/><path d="M498.7 293.6L506.0 293.6L502.4 287.4Z" fill="#0000ff"/><path d="M501.0 292.5L508.3 292.5L504.7 286.3Z" fill="#0000ff"/><path d="M503.3 291.4L510.6 291.4L507.0 285.2Z" fill="#0000ff"/><path d="M505.6 290.0L512.9 290.0L509.3 283.8Z" fill="#0000ff"/><path d="M507.9 288.0L515.2 288.0L511.6 281.8Z" fill="#0000ff"/><path d="M510.2 285.9L517.5 285.9L513.9 279.7Z" fill="#0000ff"/><path d="M512.5 283.7L519.8 283.7L516.2 277.5Z" fill="#0000ff"/><path d="M514.8 281.0L522.1 281.0L518.5 274.8Z" fill="#0000ff"/><path d="M517.1 278.3L524.4 278.3L520.8 272.1Z" fill="#0000ff"/><path d="M519.4 275.2L526.7 275.2L523.1 269.0Z" fill="#0000ff"/><path d="M521.7 272.1L529.0 272.1L525.4 265.9Z" fill="#0000ff"/><path d="M524.0 268.3L531.3 268.3L527.7 262.1Z" fill="#0000ff"/><path d="M526.3 264.5L533.6 264.5L530.0 258.3Z" fill="#0000ff"/><path d="M528.6 259.9L535.9 259.9L532.3 253.7Z" fill="#0000ff"/><path d="M530.9 255.4L538.2 255.4L534.6 249.2Z" fill="#0000ff"/><path d="M533.2 250.4L540.5 250.4L536.8 244.2Z" fill="#0000ff"/><path d="M535.5 245.0L542.8 245.0L539.2 238.8Z" fill="#0000ff"/><path d="M537.8 239.7L545.1 239.7L541.4 233.5Z" fill="#0000ff"/><path d="M540.1 234.8L547.4 234.8L543.8 228.6Z" fill="#0000ff"/><path d="M542.4 229.3L549.7 229.3L546.1 223.1Z" fill="#0000ff"/><path d="M544.7 224.2L552.0 224.2L548.3 218.0Z" fill="#0000ff"/><path d="M546.8 219.2L554.1 219.2L550.5 213.0Z" fill="#0000ff"/><path d="M549.3 213.3L556.6 213.3L553.0 207.1Z" fill="#0000ff"/><path d="M551.5 208.0L558.8 208.0L555.2 201.8Z" fill="#0000ff"/><path d="M553.9 202.8L561.2 202.8L557.5 196.6Z" fill="#0000ff"/><path d="M556.3 196.4L563.6 196.4L559.9 190.2Z" fill="#0000ff"/><path d="M558.6 192.9L565.9 192.9L562.3 186.7Z" fill="#0000ff"/><path d="M560.7 189.7L568.0 189.7L564.4 183.5Z" fill="#0000ff"/><path d="M563.1 188.2L570.4 188.2L566.7 182.0Z" fill="#0000ff"/><path d="M565.5 186.4L572.8 186.4L569.2 180.2Z" fill="#0000ff"/><path d="M567.6 182.7L574.9 182.7L571.2 176.5Z" fill="#0000ff"/><path d="M569.9 180.3L577.2 180.3L573.5 174.1Z" fill="#0000ff"/><path d="M572.4 177.8L579.7 177.8L576.1 171.6Z" fill="#0000ff"/><path d="M574.4 172.6L581.7 172.6L578.0 166.4Z" fill="#0000ff"/><path d="M576.8 168.2L584.1 168.2L580.5 162.0Z" fill="#0000ff"/><path d="M579.2 164.8L586.5 164.8L582.9 158.6Z" fill="#0000ff"/><path d="M581.4 161.0L588.7 161.0L585.1 154.8Z" fill="#0000ff"/><path d="M583.9 159.2L591.2 159.2L587.5 153.0Z" fill="#0000ff"/><path d="M586.4 154.8L593.7 154.8L590.1 148.6Z" fill="#0000ff"/><path d="M588.2 151.5L595.5 151.5L591.8 145.3Z" fill="#0000ff"/><path d="M590.5 147.2L597.8 147.2L594.1 141.0Z" fill="#0000ff"/><path d="M592.8 140.7L600.1 140.7L596.4 134.5Z" fill="#0000ff"/><path d="M594.9 134.8L602.2 134.8L598.6 128.6Z" fill="#0000ff"/><path d="M597.6 132.2L604.9 132.2L601.3 126.0Z" fill="#0000ff"/><path d="M599.7 127.1L607.0 127.1L603.4 120.9Z" fill="#0000ff"/><path d="M601.7 121.4L609.0 121.4L605.3 115.2Z" fill="#0000ff"/><path d="M604.3 118.0L611.6 118.0L607.9 111.8Z" fill="#0000ff"/><path d="M606.9 114.9L614.2 114.9L610.5 108.7Z" fill="#0000ff"/><path d="M608.7 110.4L616.0 110.4L612.3 104.2Z" fill="#0000ff"/><path d="M611.1 107.1L618.4 107.1L614.7 100.9Z" fill="#0000ff"/><path d="M613.7 101.0L621.0 101.0L617.4 94.8Z" fill="#0000ff"/><path d="M615.9 97.0L623.2 97.0L619.6 90.8Z" fill="#0000ff"/><path d="M618.3 92.2L625.6 92.2L621.9 86.0Z" fill="#0000ff"/><path d="M620.8 88.5L628.1 88.5L624.4 82.3Z" fill="#0000ff"/><path d="M623.1 85.0L630.4 85.0L626.7 78.8Z" fill="#0000ff"/><path d="M625.3 81.5L632.6 81.5L629.0 75.3Z" fill="#0000ff"/><path d="M628.4 78.8L635.7 78.8L632.0 72.6Z" fill="#0000ff"/><path d="M629.7 80.9L637.0 80.9L633.3 74.7Z" fill="#0000ff"/><path d="M632.4 80.1L639.7 80.1L636.0 73.9Z" fill="#0000ff"/><path d="M633.9 80.4L641.2 80.4L637.6 74.2Z" fill="#0000ff"/><path d="M636.4 81.1L643.7 81.1L640.1 74.9Z" fill="#0000ff"/><path d="M638.9 82.9L646.2 82.9L642.6 76.7Z" fill="#0000ff"/><path d="M641.5 81.3L648.8 81.3L645.2 75.1Z" fill="#0000ff"/><path d="M643.7 83.7L651.0 83.7L647.3 77.5Z" fill="#0000ff"/><path d="M646.2 83.6L653.5 83.6L649.9 77.4Z" fill="#0000ff"/><path d="M648.0 85.4L655.3 85.4L651.6 79.2Z" fill="#0000ff"/><path d="M650.8 84.6L658.1 84.6L654.5 78.4Z" fill="#0000ff"/><path d="M653.2 87.2L660.5 87.2L656.9 81.0Z" fill="#0000ff"/><path d="M655.0 84.7L662.3 84.7L658.6 78.5Z" fill="#0000ff"/><path d="M657.2 87.4L664.5 87.4L660.9 81.2Z" fill="#0000ff"/><path d="M659.8 87.5L667.1 87.5L663.4 81.3Z" fill="#0000ff"/><path d="M662.6 92.8L669.9 92.8L666.2 86.6Z" fill="#0000ff"/><path d="M664.1 89.6L671.4 89.6L667.7 83.4Z" fill="#0000ff"/><path d="M666.5 92.8L673.8 92.8L670.2 86.6Z" fill="#0000ff"/><path d="M669.2 94.0L676.5 94.0L672.8 87.8Z" fill="#0000ff"/><path d="M671.1 92.9L678.4 92.9L674.7 86.7Z" fill="#0000ff"/><path d="M673.6 97.3L680.9 97.3L677.2 91.1Z" fill="#0000ff"/><path d="M675.7 98.3L683.0 98.3L679.3 92.1Z" fill="#0000ff"/><path d="M678.1 99.0L685.4 99.0L681.7 92.8Z" fill="#0000ff"/><path d="M680.0 100.8L687.3 100.8L683.7 94.6Z" fill="#0000ff"/><path d="M682.3 103.1L689.6 103.1L685.9 96.9Z" fill="#0000ff"/><path d="M684.7 103.7L692.0 103.7L688.4 97.5Z" fill="#0000ff"/><path d="M687.1 105.4L694.4 105.4L690.7 99.2Z" fill="#0000ff"/><path d="M689.5 107.4L696.8 107.4L693.1 101.2Z" fill="#0000ff"/><path d="M691.6 106.8L698.9 106.8L695.3 100.6Z" fill="#0000ff"/><path d="M694.1 108.8L701.4 108.8L697.7 102.6Z" fill="#0000ff"/>
<path d="M472.5 295.2L474.8 295.2L477.1 295.2L479.4 295.2L481.7 295.2L484.0 295.2L486.2 295.2L488.5 295.2L490.8 295.0L493.1 294.4L495.4 293.7L497.7 292.2L500.0 290.8L502.3 289.4L504.6 287.3L506.9 284.4L509.1 281.5L511.4 278.6L513.7 275.6L516.0 272.3L518.3 268.5L520.6 264.5L522.9 260.0L525.2 255.5L527.4 250.9L529.7 245.9L532.0 241.3L534.3 237.3L536.7 232.9L538.9 228.3L541.2 223.4L543.7 217.0L545.9 212.5L548.4 206.6L550.3 200.1L552.5 194.7L554.8 189.0L556.9 183.9L559.6 179.5L561.8 174.7L564.3 168.3L566.3 164.5L568.5 162.0L570.9 160.0L573.7 155.8L575.5 152.9L577.8 150.6L579.9 145.6L582.3 141.0L585.0 136.6L587.0 128.9L588.9 125.4L591.2 120.1L593.8 117.3L596.3 116.9L598.4 112.4L600.3 109.4L602.8 106.9L604.8 108.4L607.2 104.3L609.9 104.5L612.3 103.0L614.3 102.9L616.8 100.2L619.5 100.8L621.6 98.9L623.3 98.9L625.8 99.5L627.8 100.2L630.3 102.3L632.9 101.9L635.6 102.4L637.7 101.6L639.6 104.7L642.0 106.0L644.0 105.5L646.4 109.9L648.8 112.5L651.7 112.2L653.7 113.0L655.9 115.3L657.9 116.7" fill="none" stroke="#ff00ff" stroke-width="1"/>
<path d="M468.9 293.2L476.1 293.2L472.5 299.4Z" fill="#ff00ff"/><path d="M471.1 293.2L478.4 293.2L474.8 299.4Z" fill="#ff00ff"/><path d="M473.4 293.2L480.7 293.2L477.1 299.4Z" fill="#ff00ff"/><path d="M475.7 293.2L483.0 293.2L479.4 299.4Z" fill="#ff00ff"/><path d="M478.0 293.2L485.3 293.2L481.7 299.4Z" fill="#ff00ff"/><path d="M480.3 293.2L487.6 293.2L484.0 299.4Z" fill="#ff00ff"/><path d="M482.6 293.2L489.9 293.2L486.2 299.4Z" fill="#ff00ff"/><path d="M484.9 293.2L492.2 293.2L488.5 299.4Z" fill="#ff00ff"/><path d="M487.2 293.0L494.5 293.0L490.8 299.2Z" fill="#ff00ff"/><path d="M489.5 292.4L496.8 292.4L493.1 298.6Z" fill="#ff00ff"/><path d="M491.8 291.7L499.1 291.7L495.4 297.9Z" fill="#ff00ff"/><path d="M494.0 290.2L501.3 290.2L497.7 296.4Z" fill="#ff00ff"/><path d="M496.3 288.8L503.6 288.8L500.0 295.0Z" fill="#ff00ff"/><path d="M498.6 287.4L505.9 287.4L502.3 293.6Z" fill="#ff00ff"/><path d="M500.9 285.3L508.2 285.3L504.6 291.5Z" fill="#ff00ff"/><path d="M503.2 282.4L510.5 282.4L506.9 288.6Z" fill="#ff00ff"/><path d="M505.5 279.5L512.8 279.5L509.1 285.7Z" fill="#ff00ff"/><path d="M507.8 276.6L515.1 276.6L511.4 282.8Z" fill="#ff00ff"/><path d="M510.1 273.6L517.4 273.6L513.7 279.8Z" fill="#ff00ff"/><path d="M512.4 270.3L519.7 270.3L516.0 276.5Z" fill="#ff00ff"/><path d="M514.7 266.5L522.0 266.5L518.3 272.7Z" fill="#ff00ff"/><path d="M516.9 262.5L524.2 262.5L520.6 268.7Z" fill="#ff00ff"/><path d="M519.2 258.0L526.5 258.0L522.9 264.2Z" fill="#ff00ff"/><path d="M521.5 253.5L528.8 253.5L525.2 259.7Z" fill="#ff00ff"/><path d="M523.8 248.9L531.1 248.9L527.4 255.1Z" fill="#ff00ff"/><path d="M526.1 243.9L533.4 243.9L529.7 250.1Z" fill="#ff00ff"/><path d="M528.4 239.3L535.7 239.3L532.0 245.5Z" fill="#ff00ff"/><path d="M530.7 235.3L538.0 235.3L534.3 241.5Z" fill="#ff00ff"/><path d="M533.1 230.9L540.4 230.9L536.7 237.1Z" fill="#ff00ff"/><path d="M535.2 226.3L542.5 226.3L538.9 232.5Z" fill="#ff00ff"/><path d="M537.6 221.4L544.9 221.4L541.2 227.6Z" fill="#ff00ff"/><path d="M540.0 215.0L547.3 215.0L543.7 221.2Z" fill="#ff00ff"/><path d="M542.2 210.5L549.5 210.5L545.9 216.7Z" fill="#ff00ff"/><path d="M544.7 204.6L552.0 204.6L548.4 210.8Z" fill="#ff00ff"/><path d="M546.7 198.1L554.0 198.1L550.3 204.3Z" fill="#ff00ff"/><path d="M548.9 192.7L556.2 192.7L552.5 198.9Z" fill="#ff00ff"/><path d="M551.1 187.0L558.4 187.0L554.8 193.2Z" fill="#ff00ff"/><path d="M553.3 181.9L560.6 181.9L556.9 188.1Z" fill="#ff00ff"/><path d="M555.9 177.5L563.2 177.5L559.6 183.7Z" fill="#ff00ff"/><path d="M558.1 172.7L565.4 172.7L561.8 178.9Z" fill="#ff00ff"/><path d="M560.7 166.3L568.0 166.3L564.3 172.5Z" fill="#ff00ff"/><path d="M562.7 162.5L570.0 162.5L566.3 168.7Z" fill="#ff00ff"/><path d="M564.8 160.0L572.1 160.0L568.5 166.2Z" fill="#ff00ff"/><path d="M567.3 158.0L574.6 158.0L570.9 164.2Z" fill="#ff00ff"/><path d="M570.1 153.8L577.4 153.8L573.7 160.0Z" fill="#ff00ff"/><path d="M571.8 150.9L579.1 150.9L575.5 157.1Z" fill="#ff00ff"/><path d="M574.2 148.6L581.5 148.6L577.8 154.8Z" fill="#ff00ff"/><path d="M576.3 143.6L583.6 143.6L579.9 149.8Z" fill="#ff00ff"/><path d="M578.7 139.0L586.0 139.0L582.3 145.2Z" fill="#ff00ff"/><path d="M581.4 134.6L588.7 134.6L585.0 140.8Z" fill="#ff00ff"/><path d="M583.3 126.9L590.6 126.9L587.0 133.1Z" fill="#ff00ff"/><path d="M585.2 123.4L592.5 123.4L588.9 129.6Z" fill="#ff00ff"/><path d="M587.6 118.1L594.9 118.1L591.2 124.3Z" fill="#ff00ff"/><path d="M590.1 115.3L597.4 115.3L593.8 121.5Z" fill="#ff00ff"/><path d="M592.7 114.9L600.0 114.9L596.3 121.1Z" fill="#ff00ff"/><path d="M594.7 110.4L602.0 110.4L598.4 116.6Z" fill="#ff00ff"/><path d="M596.7 107.4L604.0 107.4L600.3 113.6Z" fill="#ff00ff"/><path d="M599.2 104.9L606.5 104.9L602.8 111.1Z" fill="#ff00ff"/><path d="M601.2 106.4L608.5 106.4L604.8 112.6Z" fill="#ff00ff"/><path d="M603.6 102.3L610.9 102.3L607.2 108.5Z" fill="#ff00ff"/><path d="M606.2 102.5L613.5 102.5L609.9 108.7Z" fill="#ff00ff"/><path d="M608.6 101.0L615.9 101.0L612.3 107.2Z" fill="#ff00ff"/><path d="M610.6 100.9L617.9 100.9L614.3 107.1Z" fill="#ff00ff"/><path d="M613.2 98.2L620.5 98.2L616.8 104.4Z" fill="#ff00ff"/><path d="M615.8 98.8L623.1 98.8L619.5 105.0Z" fill="#ff00ff"/><path d="M617.9 96.9L625.2 96.9L621.6 103.1Z" fill="#ff00ff"/><path d="M619.7 96.9L627.0 96.9L623.3 103.1Z" fill="#ff00ff"/><path d="M622.1 97.5L629.4 97.5L625.8 103.7Z" fill="#ff00ff"/><path d="M624.2 98.2L631.5 98.2L627.8 104.4Z" fill="#ff00ff"/><path d="M626.6 100.3L633.9 100.3L630.3 106.5Z" fill="#ff00ff"/><path d="M629.2 99.9L636.5 99.9L632.9 106.1Z" fill="#ff00ff"/><path d="M632.0 100.4L639.3 100.4L635.6 106.6Z" fill="#ff00ff"/><path d="M634.0 99.6L641.3 99.6L637.7 105.8Z" fill="#ff00ff"/><path d="M636.0 102.7L643.3 102.7L639.6 108.9Z" fill="#ff00ff"/><path d="M638.3 104.0L645.6 104.0L642.0 110.2Z" fill="#ff00ff"/><path d="M640.4 103.5L647.7 103.5L644.0 109.7Z" fill="#ff00ff"/><path d="M642.7 107.9L650.0 107.9L646.4 114.1Z" fill="#ff00ff"/><path d="M645.1 110.5L652.4 110.5L648.8 116.7Z" fill="#ff00ff"/><path d="M648.0 110.2L655.3 110.2L651.7 116.4Z" fill="#ff00ff"/><path d="M650.0 111.0L657.3 111.0L653.7 117.2Z" fill="#ff00ff"/><path d="M652.2 113.3L659.5 113.3L655.9 119.5Z" fill="#ff00ff"/><path d="M654.3 114.7L661.6 114.7L657.9 120.9Z" fill="#ff00ff"/>
<path d="M472.5 294.7L474.8 294.7L477.1 294.7L479.4 294.7L481.6 294.7L483.9 294.7L486.2 294.7L488.5 294.7L490.8 294.0L493.1 293.2L495.3 291.3L497.6 289.2L499.9 287.2L502.2 284.2L504.5 281.2L506.8 278.1L509.0 275.0L511.3 271.6L513.6 268.0L515.9 263.9L518.2 259.2L520.4 254.9L522.8 250.3L525.1 239.1L527.4 234.2L529.6 230.4L531.8 227.3L534.0 222.2L536.5 216.7L538.8 213.1L541.1 208.5L543.1 204.2L545.6 199.3L548.0 191.7L550.4 188.3L552.6 183.5L554.6 178.9L556.9 175.2L559.2 165.9L561.5 161.4L563.7 150.4L566.5 149.5L568.3 146.2L570.5 140.4L573.2 136.5L575.4 132.5L577.8 127.5L579.3 123.0L582.0 121.3L584.5 120.0L586.6 114.8L588.9 116.5L591.2 114.6L593.9 114.1L596.1 113.4L597.8 111.4L600.3 112.4L602.5 111.6L604.7 113.4L607.0 114.9L610.0 118.1L611.6 119.6L614.5 119.1L616.4 115.9L618.3 119.8L620.9 122.1L622.9 123.1L625.0 120.9L627.8 123.6L630.2 124.7" fill="none" stroke="#008000" stroke-width="1"/>
<path d="M469.0 294.7L472.5 290.7L476.0 294.7L472.5 298.7Z" fill="#008000"/><path d="M471.3 294.7L474.8 290.7L478.3 294.7L474.8 298.7Z" fill="#008000"/><path d="M473.6 294.7L477.1 290.7L480.6 294.7L477.1 298.7Z" fill="#008000"/><path d="M475.9 294.7L479.4 290.7L482.9 294.7L479.4 298.7Z" fill="#008000"/><path d="M478.1 294.7L481.6 290.7L485.1 294.7L481.6 298.7Z" fill="#008000"/><path d="M480.4 294.7L483.9 290.7L487.4 294.7L483.9 298.7Z" fill="#008000"/><path d="M482.7 294.7L486.2 290.7L489.7 294.7L486.2 298.7Z" fill="#008000"/><path d="M485.0 294.7L488.5 290.7L492.0 294.7L488.5 298.7Z" fill="#008000"/><path d="M487.3 294.0L490.8 290.0L494.3 294.0L490.8 298.0Z" fill="#008000"/><path d="M489.6 293.2L493.1 289.2L496.6 293.2L493.1 297.2Z" fill="#008000"/><path d="M491.8 291.3L495.3 287.3L498.8 291.3L495.3 295.3Z" fill="#008000"/><path d="M494.1 289.2L497.6 285.2L501.1 289.2L497.6 293.2Z" fill="#008000"/><path d="M496.4 287.2L499.9 283.2L503.4 287.2L499.9 291.2Z" fill="#008000"/><path d="M498.7 284.2L502.2 280.2L505.7 284.2L502.2 288.2Z" fill="#008000"/><path d="M501.0 281.2L504.5 277.2L508.0 281.2L504.5 285.2Z" fill="#008000"/><path d="M503.3 278.1L506.8 274.1L510.3 278.1L506.8 282.1Z" fill="#008000"/><path d="M505.5 275.0L509.0 271.0L512.5 275.0L509.0 279.0Z" fill="#008000"/><path d="M507.8 271.6L511.3 267.6L514.8 271.6L511.3 275.6Z" fill="#008000"/><path d="M510.1 268.0L513.6 264.0L517.1 268.0L513.6 272.0Z" fill="#008000"/><path d="M512.4 263.9L515.9 259.9L519.4 263.9L515.9 267.9Z" fill="#008000"/><path d="M514.7 259.2L518.2 255.2L521.7 259.2L518.2 263.2Z" fill="#008000"/><path d="M516.9 254.9L520.4 250.9L523.9 254.9L520.4 258.9Z" fill="#008000"/><path d="M519.3 250.3L522.8 246.3L526.3 250.3L522.8 254.3Z" fill="#008000"/><path d="M521.6 239.1L525.1 235.1L528.6 239.1L525.1 243.1Z" fill="#008000"/><path d="M523.9 234.2L527.4 230.2L530.9 234.2L527.4 238.2Z" fill="#008000"/><path d="M526.1 230.4L529.6 226.4L533.1 230.4L529.6 234.4Z" fill="#008000"/><path d="M528.3 227.3L531.8 223.3L535.3 227.3L531.8 231.3Z" fill="#008000"/><path d="M530.5 222.2L534.0 218.2L537.5 222.2L534.0 226.2Z" fill="#008000"/><path d="M533.0 216.7L536.5 212.7L540.0 216.7L536.5 220.7Z" fill="#008000"/><path d="M535.3 213.1L538.8 209.1L542.3 213.1L538.8 217.1Z" fill="#008000"/><path d="M537.6 208.5L541.1 204.5L544.6 208.5L541.1 212.5Z" fill="#008000"/><path d="M539.6 204.2L543.1 200.2L546.6 204.2L543.1 208.2Z" fill="#008000"/><path d="M542.1 199.3L545.6 195.3L549.1 199.3L545.6 203.3Z" fill="#008000"/><path d="M544.5 191.7L548.0 187.7L551.5 191.7L548.0 195.7Z" fill="#008000"/><path d="M546.9 188.3L550.4 184.3L553.9 188.3L550.4 192.3Z" fill="#008000"/><path d="M549.1 183.5L552.6 179.5L556.1 183.5L552.6 187.5Z" fill="#008000"/><path d="M551.1 178.9L554.6 174.9L558.1 178.9L554.6 182.9Z" fill="#008000"/><path d="M553.4 175.2L556.9 171.2L560.4 175.2L556.9 179.2Z" fill="#008000"/><path d="M555.7 165.9L559.2 161.9L562.7 165.9L559.2 169.9Z" fill="#008000"/><path d="M558.0 161.4L561.5 157.4L565.0 161.4L561.5 165.4Z" fill="#008000"/><path d="M560.2 150.4L563.7 146.4L567.2 150.4L563.7 154.4Z" fill="#008000"/><path d="M563.0 149.5L566.5 145.5L570.0 149.5L566.5 153.5Z" fill="#008000"/><path d="M564.8 146.2L568.3 142.2L571.8 146.2L568.3 150.2Z" fill="#008000"/><path d="M567.0 140.4L570.5 136.4L574.0 140.4L570.5 144.4Z" fill="#008000"/><path d="M569.7 136.5L573.2 132.5L576.7 136.5L573.2 140.5Z" fill="#008000"/><path d="M571.9 132.5L575.4 128.5L578.9 132.5L575.4 136.5Z" fill="#008000"/><path d="M574.3 127.5L577.8 123.5L581.3 127.5L577.8 131.5Z" fill="#008000"/><path d="M575.8 123.0L579.3 119.0L582.8 123.0L579.3 127.0Z" fill="#008000"/><path d="M578.5 121.3L582.0 117.3L585.5 121.3L582.0 125.3Z" fill="#008000"/><path d="M581.0 120.0L584.5 116.0L588.0 120.0L584.5 124.0Z" fill="#008000"/><path d="M583.1 114.8L586.6 110.8L590.1 114.8L586.6 118.8Z" fill="#008000"/><path d="M585.4 116.5L588.9 112.5L592.4 116.5L588.9 120.5Z" fill="#008000"/><path d="M587.7 114.6L591.2 110.6L594.7 114.6L591.2 118.6Z" fill="#008000"/><path d="M590.4 114.1L593.9 110.1L597.4 114.1L593.9 118.1Z" fill="#008000"/><path d="M592.6 113.4L596.1 109.4L599.6 113.4L596.1 117.4Z" fill="#008000"/><path d="M594.3 111.4L597.8 107.4L601.3 111.4L597.8 115.4Z" fill="#008000"/><path d="M596.8 112.4L600.3 108.4L603.8 112.4L600.3 116.4Z" fill="#008000"/><path d="M599.0 111.6L602.5 107.6L606.0 111.6L602.5 115.6Z" fill="#008000"/><path d="M601.2 113.4L604.7 109.4L608.2 113.4L604.7 117.4Z" fill="#008000"/><path d="M603.5 114.9L607.0 110.9L610.5 114.9L607.0 118.9Z" fill="#008000"/><path d="M606.5 118.1L610.0 114.1L613.5 118.1L610.0 122.1Z" fill="#008000"/><path d="M608.1 119.6L611.6 115.6L615.1 119.6L611.6 123.6Z" fill="#008000"/><path d="M611.0 119.1L614.5 115.1L618.0 119.1L614.5 123.1Z" fill="#008000"/><path d="M612.9 115.9L616.4 111.9L619.9 115.9L616.4 119.9Z" fill="#008000"/><path d="M614.8 119.8L618.3 115.8L621.8 119.8L618.3 123.8Z" fill="#008000"/><path d="M617.4 122.1L620.9 118.1L624.4 122.1L620.9 126.1Z" fill="#008000"/><path d="M619.4 123.1L622.9 119.1L626.4 123.1L622.9 127.1Z" fill="#008000"/><path d="M621.5 120.9L625.0 116.9L628.5 120.9L625.0 124.9Z" fill="#008000"/><path d="M624.3 123.6L627.8 119.6L631.3 123.6L627.8 127.6Z" fill="#008000"/><path d="M626.7 124.7L630.2 120.7L633.7 124.7L630.2 128.7Z" fill="#008000"/>
<path d="M472.5 294.9L474.8 294.9L477.1 294.9L479.4 294.9L481.7 294.9L484.1 294.9L486.4 294.4L488.7 293.4L491.0 291.1L493.3 288.8L495.6 286.3L497.9 283.2L500.2 280.1L502.6 277.0L504.9 274.0L507.1 270.3L509.5 266.3L511.8 262.0L514.1 257.1L516.5 252.8L518.8 248.2L521.0 240.7L523.4 232.7L525.8 224.2L527.8 218.7L530.1 214.5L532.7 210.2L534.7 208.7L537.1 205.1L539.3 201.3L541.8 194.3L544.3 182.2L546.6 179.5L549.0 172.1L551.1 171.4L553.2 166.0L555.6 162.6L557.9 163.0L560.7 159.7L562.6 159.2L564.5 160.2L567.7 158.3L569.5 152.9L572.2 148.7L574.2 146.2L576.6 146.0L578.6 140.7L581.4 139.7L583.0 137.8L585.6 139.1L588.2 141.6L590.4 140.3L592.5 139.8L595.4 137.1L597.2 139.5L599.9 137.0L601.6 138.0L604.6 137.4L606.5 137.0L609.1 138.5" fill="none" stroke="#000080" stroke-width="1"/>
<path d="M474.5 291.2L474.5 298.5L468.3 294.9Z" fill="#000080"/><path d="M476.8 291.2L476.8 298.5L470.6 294.9Z" fill="#000080"/><path d="M479.1 291.2L479.1 298.5L472.9 294.9Z" fill="#000080"/><path d="M481.4 291.2L481.4 298.5L475.2 294.9Z" fill="#000080"/><path d="M483.7 291.2L483.7 298.5L477.5 294.9Z" fill="#000080"/><path d="M486.1 291.2L486.1 298.5L479.9 294.9Z" fill="#000080"/><path d="M488.4 290.7L488.4 298.0L482.2 294.4Z" fill="#000080"/><path d="M490.7 289.8L490.7 297.1L484.5 293.4Z" fill="#000080"/><path d="M493.0 287.5L493.0 294.8L486.8 291.1Z" fill="#000080"/><path d="M495.3 285.1L495.3 292.4L489.1 288.8Z" fill="#000080"/><path d="M497.6 282.7L497.6 290.0L491.4 286.3Z" fill="#000080"/><path d="M499.9 279.6L499.9 286.9L493.7 283.2Z" fill="#000080"/><path d="M502.2 276.5L502.2 283.8L496.0 280.1Z" fill="#000080"/><path d="M504.6 273.4L504.6 280.7L498.4 277.0Z" fill="#000080"/><path d="M506.9 270.3L506.9 277.6L500.7 274.0Z" fill="#000080"/><path d="M509.1 266.6L509.1 273.9L502.9 270.3Z" fill="#000080"/><path d="M511.5 262.7L511.5 270.0L505.3 266.3Z" fill="#000080"/><path d="M513.8 258.3L513.8 265.6L507.6 262.0Z" fill="#000080"/><path d="M516.1 253.5L516.1 260.8L509.9 257.1Z" fill="#000080"/><path d="M518.5 249.1L518.5 256.4L512.3 252.8Z" fill="#000080"/><path d="M520.8 244.5L520.8 251.8L514.6 248.2Z" fill="#000080"/><path d="M523.0 237.1L523.0 244.4L516.8 240.7Z" fill="#000080"/><path d="M525.4 229.1L525.4 236.4L519.2 232.7Z" fill="#000080"/><path d="M527.8 220.5L527.8 227.8L521.6 224.2Z" fill="#000080"/><path d="M529.8 215.1L529.8 222.4L523.6 218.7Z" fill="#000080"/><path d="M532.1 210.8L532.1 218.1L525.9 214.5Z" fill="#000080"/><path d="M534.7 206.6L534.7 213.9L528.5 210.2Z" fill="#000080"/><path d="M536.7 205.1L536.7 212.4L530.5 208.7Z" fill="#000080"/><path d="M539.1 201.5L539.1 208.8L532.9 205.1Z" fill="#000080"/><path d="M541.3 197.7L541.3 205.0L535.1 201.3Z" fill="#000080"/><path d="M543.8 190.6L543.8 197.9L537.6 194.3Z" fill="#000080"/><path d="M546.3 178.5L546.3 185.8L540.1 182.2Z" fill="#000080"/><path d="M548.6 175.8L548.6 183.1L542.4 179.5Z" fill="#000080"/><path d="M551.0 168.5L551.0 175.8L544.8 172.1Z" fill="#000080"/><path d="M553.1 167.8L553.1 175.1L546.9 171.4Z" fill="#000080"/><path d="M555.2 162.4L555.2 169.7L549.0 166.0Z" fill="#000080"/><path d="M557.6 158.9L557.6 166.2L551.4 162.6Z" fill="#000080"/><path d="M559.9 159.4L559.9 166.7L553.7 163.0Z" fill="#000080"/><path d="M562.7 156.0L562.7 163.3L556.5 159.7Z" fill="#000080"/><path d="M564.6 155.5L564.6 162.8L558.4 159.2Z" fill="#000080"/><path d="M566.5 156.6L566.5 163.9L560.3 160.2Z" fill="#000080"/><path d="M569.7 154.6L569.7 161.9L563.5 158.3Z" fill="#000080"/><path d="M571.5 149.2L571.5 156.5L565.3 152.9Z" fill="#000080"/><path d="M574.2 145.1L574.2 152.4L568.0 148.7Z" fill="#000080"/><path d="M576.2 142.5L576.2 149.8L570.0 146.2Z" fill="#000080"/><path d="M578.6 142.3L578.6 149.6L572.4 146.0Z" fill="#000080"/><path d="M580.6 137.0L580.6 144.3L574.4 140.7Z" fill="#000080"/><path d="M583.4 136.0L583.4 143.3L577.2 139.7Z" fill="#000080"/><path d="M585.0 134.1L585.0 141.4L578.8 137.8Z" fill="#000080"/><path d="M587.6 135.4L587.6 142.7L581.4 139.1Z" fill="#000080"/><path d="M590.2 138.0L590.2 145.3L584.0 141.6Z" fill="#000080"/><path d="M592.4 136.6L592.4 143.9L586.2 140.3Z" fill="#000080"/><path d="M594.5 136.1L594.5 143.4L588.3 139.8Z" fill="#000080"/><path d="M597.4 133.5L597.4 140.8L591.2 137.1Z" fill="#000080"/><path d="M599.2 135.8L599.2 143.1L593.0 139.5Z" fill="#000080"/><path d="M601.9 133.3L601.9 140.6L595.7 137.0Z" fill="#000080"/><path d="M603.6 134.4L603.6 141.7L597.4 138.0Z" fill="#000080"/><path d="M606.6 133.8L606.6 141.1L600.4 137.4Z" fill="#000080"/><path d="M608.5 133.4L608.5 140.7L602.3 137.0Z" fill="#000080"/><path d="M611.1 134.8L611.1 142.1L604.9 138.5Z" fill="#000080"/>
<rect x="645.4" y="205.6" width="174.39999999999998" height="102.4" fill="#fff" stroke="#5a5a5a" stroke-width="1.1"/>
<path d="M651 215.6H672.7" stroke="#000000" stroke-width="1"/>
<rect x="659.4" y="213.0" width="5.2" height="5.2" fill="#000000"/>
<text x="675.6" y="219.3" class="lg it">We</text><text x="690.5" y="222.7" class="sb">g</text><text x="693.9" y="219.3" class="lg" style="letter-spacing:0.25px">=159</text>
<text x="725.0" y="219.3" class="lg it">&#967;</text>
 <text x="731.3" y="219.3" class="lg" style="letter-spacing:0.4px">=0.354</text>
<text x="769.9" y="219.3" class="lg it">We</text><text x="784.8" y="222.7" class="sb">d</text><text x="788.2" y="219.3" class="lg" style="letter-spacing:0.45px">=19.9</text>
<path d="M651 232.1H672.7" stroke="#ff0000" stroke-width="1"/>
<circle cx="662.0" cy="232.1" r="3.0" fill="#ff0000"/>
<text x="675.6" y="235.8" class="lg it">We</text><text x="690.5" y="239.2" class="sb">g</text><text x="693.9" y="235.8" class="lg" style="letter-spacing:0.25px">=230</text>
<text x="725.0" y="235.8" class="lg it">&#967;</text>
 <text x="731.3" y="235.8" class="lg" style="letter-spacing:0.4px">=0.295</text>
<text x="769.9" y="235.8" class="lg it">We</text><text x="784.8" y="239.2" class="sb">d</text><text x="788.2" y="235.8" class="lg" style="letter-spacing:0.45px">=19.9</text>
<path d="M651 248.9H672.7" stroke="#0000ff" stroke-width="1"/>
<path d="M658.4 250.9L665.6 250.9L662.0 244.7Z" fill="#0000ff"/>
<text x="675.6" y="252.6" class="lg it">We</text><text x="690.5" y="256.0" class="sb">g</text><text x="693.9" y="252.6" class="lg" style="letter-spacing:0.25px">=312</text>
<text x="725.0" y="252.6" class="lg it">&#967;</text>
 <text x="731.3" y="252.6" class="lg" style="letter-spacing:0.4px">=0.253</text>
<text x="769.9" y="252.6" class="lg it">We</text><text x="784.8" y="256.0" class="sb">d</text><text x="788.2" y="252.6" class="lg" style="letter-spacing:0.45px">=19.9</text>
<path d="M651 265.6H672.7" stroke="#ff00ff" stroke-width="1"/>
<path d="M658.4 263.6L665.6 263.6L662.0 269.8Z" fill="#ff00ff"/>
<text x="675.6" y="269.3" class="lg it">We</text><text x="690.5" y="272.7" class="sb">g</text><text x="693.9" y="269.3" class="lg" style="letter-spacing:0.25px">=408</text>
<text x="725.0" y="269.3" class="lg it">&#967;</text>
 <text x="731.3" y="269.3" class="lg" style="letter-spacing:0.4px">=0.221</text>
<text x="769.9" y="269.3" class="lg it">We</text><text x="784.8" y="272.7" class="sb">d</text><text x="788.2" y="269.3" class="lg" style="letter-spacing:0.45px">=19.9</text>
<path d="M651 282.3H672.7" stroke="#008000" stroke-width="1"/>
<path d="M658.5 282.3L662.0 278.3L665.5 282.3L662.0 286.3Z" fill="#008000"/>
<text x="675.6" y="286.0" class="lg it">We</text><text x="690.5" y="289.4" class="sb">g</text><text x="693.9" y="286.0" class="lg" style="letter-spacing:0.25px">=637</text>
<text x="725.0" y="286.0" class="lg it">&#967;</text>
 <text x="731.3" y="286.0" class="lg" style="letter-spacing:0.4px">=0.177</text>
<text x="769.9" y="286.0" class="lg it">We</text><text x="784.8" y="289.4" class="sb">d</text><text x="788.2" y="286.0" class="lg" style="letter-spacing:0.45px">=19.9</text>
<path d="M651 298.9H672.7" stroke="#000080" stroke-width="1"/>
<path d="M664.0 295.2L664.0 302.5L657.8 298.9Z" fill="#000080"/>
<text x="675.6" y="302.6" class="lg it">We</text><text x="690.5" y="306.0" class="sb">g</text><text x="693.9" y="302.6" class="lg" style="letter-spacing:0.25px">=917</text>
<text x="725.0" y="302.6" class="lg it">&#967;</text>
 <text x="731.3" y="302.6" class="lg" style="letter-spacing:0.4px">=0.147</text>
<text x="769.9" y="302.6" class="lg it">We</text><text x="784.8" y="306.0" class="sb">d</text><text x="788.2" y="302.6" class="lg" style="letter-spacing:0.45px">=19.9</text>
<text x="-0.6" y="12.7" class="pl"><tspan class="pp">(</tspan> a <tspan class="pp">)</tspan></text>
<text x="425.6" y="12.7" class="pl"><tspan class="pp">(</tspan> b <tspan class="pp">)</tspan></text>
<text x="203.8" y="354.6" class="al"><tspan class="it">t</tspan> (ms)</text>
<text x="628.5" y="354.6" class="al"><tspan class="it">t</tspan> (ms)</text>
<text transform="translate(14.6,204.8) rotate(-90)" class="yl">Area (mm<tspan class="sp" dy="-6.3">2</tspan><tspan dy="6.3">)</tspan></text>
<text transform="translate(439.6,204.8) rotate(-90)" class="yl">Area (mm<tspan class="sp" dy="-6.3">2</tspan><tspan dy="6.3">)</tspan></text>
</svg>
</body></html>
